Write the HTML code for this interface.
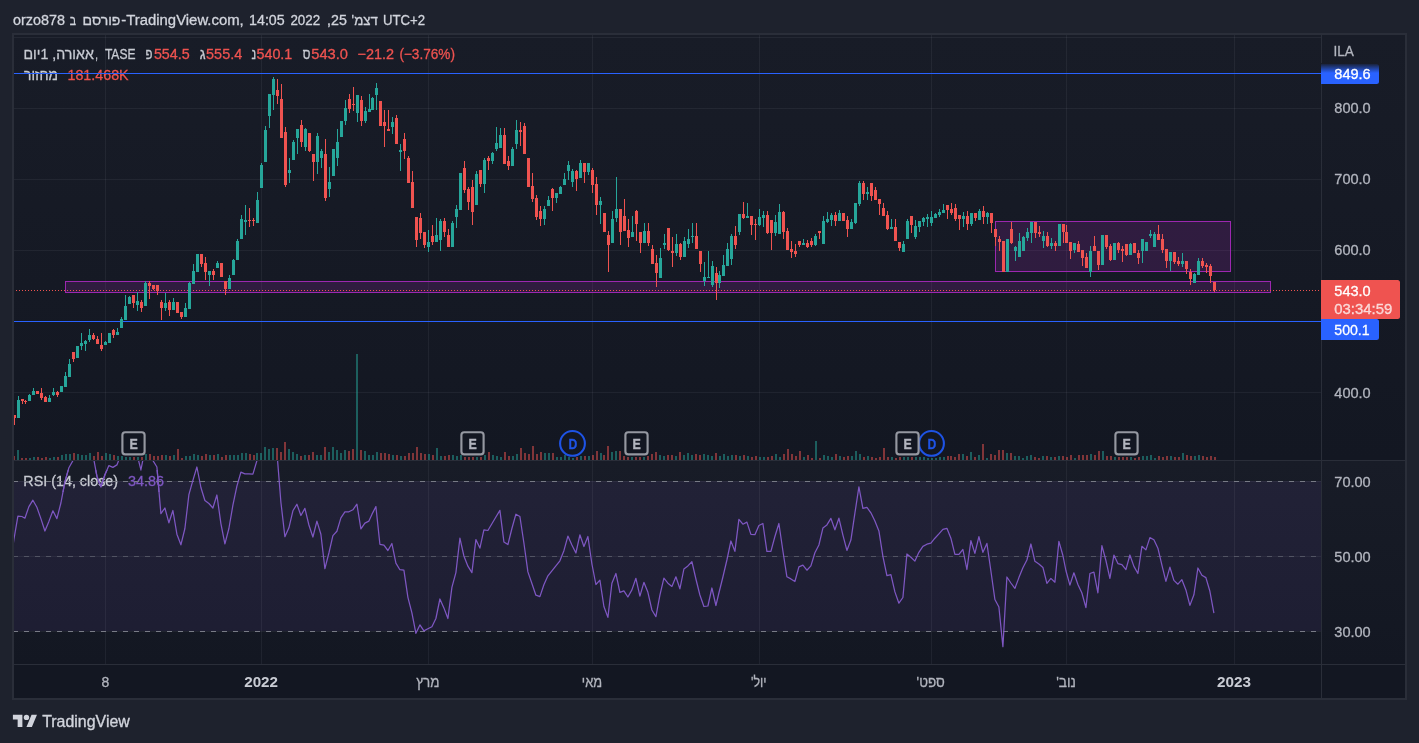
<!DOCTYPE html>
<html lang="he"><head><meta charset="utf-8"><title>chart</title>
<style>html,body{margin:0;padding:0;background:#1e222d;overflow:hidden}body{width:1419px;height:743px;font-family:"Liberation Sans",sans-serif}</style></head>
<body>
<svg width="1419" height="743" viewBox="0 0 1419 743" style="display:block;will-change:transform">
<defs>
<clipPath id="cm"><rect x="14" y="35" width="1307" height="425"/></clipPath>
<clipPath id="cr"><rect x="14" y="461" width="1307" height="203"/></clipPath>
<linearGradient id="fade" x1="0" y1="0" x2="0" y2="1"><stop offset="0" stop-color="#181c27" stop-opacity="1"/><stop offset="1" stop-color="#181c27" stop-opacity="0"/></linearGradient>
<linearGradient id="bgg" x1="0" y1="0" x2="0" y2="1"><stop offset="0" stop-color="#181c27"/><stop offset="1" stop-color="#131722"/></linearGradient>
<clipPath id="cl"><rect x="14" y="470" width="160" height="22"/></clipPath>
</defs>
<rect width="1419" height="743" fill="#1e222d"/>
<rect x="12" y="33" width="1395" height="667" fill="#2a2e39"/>
<rect x="14" y="35" width="1391" height="663" fill="#131722"/>
<rect x="14" y="35" width="1391" height="425" fill="url(#bgg)"/>
<rect x="14" y="461" width="1391" height="203" fill="url(#bgg)"/>
<g shape-rendering="crispEdges">
<rect x="14" y="481" width="1307" height="150" fill="#7e57c2" fill-opacity="0.1"/>
<rect x="14" y="37" width="1307" height="1" fill="#f0f3fa" fill-opacity="0.06"/>
<rect x="14" y="108" width="1307" height="1" fill="#f0f3fa" fill-opacity="0.06"/>
<rect x="14" y="179" width="1307" height="1" fill="#f0f3fa" fill-opacity="0.06"/>
<rect x="14" y="250" width="1307" height="1" fill="#f0f3fa" fill-opacity="0.06"/>
<rect x="14" y="321" width="1307" height="1" fill="#f0f3fa" fill-opacity="0.06"/>
<rect x="14" y="392" width="1307" height="1" fill="#f0f3fa" fill-opacity="0.06"/>
<rect x="14" y="481" width="1307" height="1" fill="#f0f3fa" fill-opacity="0.06"/>
<rect x="14" y="556" width="1307" height="1" fill="#f0f3fa" fill-opacity="0.06"/>
<rect x="14" y="631" width="1307" height="1" fill="#f0f3fa" fill-opacity="0.06"/>
<rect x="105" y="35" width="1" height="629" fill="#f0f3fa" fill-opacity="0.06"/>
<rect x="261" y="35" width="1" height="629" fill="#f0f3fa" fill-opacity="0.06"/>
<rect x="428" y="35" width="1" height="629" fill="#f0f3fa" fill-opacity="0.06"/>
<rect x="592" y="35" width="1" height="629" fill="#f0f3fa" fill-opacity="0.06"/>
<rect x="759" y="35" width="1" height="629" fill="#f0f3fa" fill-opacity="0.06"/>
<rect x="931" y="35" width="1" height="629" fill="#f0f3fa" fill-opacity="0.06"/>
<rect x="1066" y="35" width="1" height="629" fill="#f0f3fa" fill-opacity="0.06"/>
<rect x="1234" y="35" width="1" height="629" fill="#f0f3fa" fill-opacity="0.06"/>
<rect x="14" y="460" width="1391" height="1" fill="#2a2e39"/>
<rect x="14" y="664" width="1391" height="1" fill="#2a2e39"/>
<rect x="1321" y="35" width="1" height="663" fill="#2a2e39"/>
<g clip-path="url(#cm)">
<rect x="13" y="456" width="2" height="4" fill="#ef5350" fill-opacity="0.5"/>
<rect x="17" y="450" width="2" height="10" fill="#26a69a" fill-opacity="0.5"/>
<rect x="21" y="458" width="2" height="2" fill="#ef5350" fill-opacity="0.5"/>
<rect x="25" y="458" width="2" height="2" fill="#ef5350" fill-opacity="0.5"/>
<rect x="29" y="458" width="2" height="2" fill="#26a69a" fill-opacity="0.5"/>
<rect x="33" y="457" width="2" height="3" fill="#26a69a" fill-opacity="0.5"/>
<rect x="37" y="457" width="2" height="3" fill="#ef5350" fill-opacity="0.5"/>
<rect x="41" y="458" width="2" height="2" fill="#ef5350" fill-opacity="0.5"/>
<rect x="45" y="457" width="2" height="3" fill="#ef5350" fill-opacity="0.5"/>
<rect x="49" y="458" width="2" height="2" fill="#26a69a" fill-opacity="0.5"/>
<rect x="53" y="457" width="2" height="3" fill="#26a69a" fill-opacity="0.5"/>
<rect x="57" y="457" width="2" height="3" fill="#ef5350" fill-opacity="0.5"/>
<rect x="61" y="455" width="2" height="5" fill="#26a69a" fill-opacity="0.5"/>
<rect x="65" y="454" width="2" height="6" fill="#26a69a" fill-opacity="0.5"/>
<rect x="69" y="454" width="2" height="6" fill="#26a69a" fill-opacity="0.5"/>
<rect x="73" y="453" width="2" height="7" fill="#ef5350" fill-opacity="0.5"/>
<rect x="77" y="454" width="2" height="6" fill="#26a69a" fill-opacity="0.5"/>
<rect x="81" y="455" width="2" height="5" fill="#26a69a" fill-opacity="0.5"/>
<rect x="85" y="455" width="2" height="5" fill="#26a69a" fill-opacity="0.5"/>
<rect x="89" y="453" width="2" height="7" fill="#26a69a" fill-opacity="0.5"/>
<rect x="93" y="456" width="2" height="4" fill="#ef5350" fill-opacity="0.5"/>
<rect x="97" y="452" width="2" height="8" fill="#ef5350" fill-opacity="0.5"/>
<rect x="101" y="456" width="2" height="4" fill="#ef5350" fill-opacity="0.5"/>
<rect x="105" y="453" width="2" height="7" fill="#26a69a" fill-opacity="0.5"/>
<rect x="109" y="454" width="2" height="6" fill="#26a69a" fill-opacity="0.5"/>
<rect x="113" y="455" width="2" height="5" fill="#ef5350" fill-opacity="0.5"/>
<rect x="117" y="456" width="2" height="4" fill="#26a69a" fill-opacity="0.5"/>
<rect x="121" y="456" width="2" height="4" fill="#26a69a" fill-opacity="0.5"/>
<rect x="125" y="457" width="2" height="3" fill="#26a69a" fill-opacity="0.5"/>
<rect x="129" y="457" width="2" height="3" fill="#26a69a" fill-opacity="0.5"/>
<rect x="133" y="457" width="2" height="3" fill="#ef5350" fill-opacity="0.5"/>
<rect x="137" y="457" width="2" height="3" fill="#26a69a" fill-opacity="0.5"/>
<rect x="141" y="457" width="2" height="3" fill="#ef5350" fill-opacity="0.5"/>
<rect x="145" y="454" width="2" height="6" fill="#26a69a" fill-opacity="0.5"/>
<rect x="149" y="454" width="2" height="6" fill="#ef5350" fill-opacity="0.5"/>
<rect x="153" y="456" width="2" height="4" fill="#ef5350" fill-opacity="0.5"/>
<rect x="157" y="456" width="2" height="4" fill="#ef5350" fill-opacity="0.5"/>
<rect x="161" y="455" width="2" height="5" fill="#ef5350" fill-opacity="0.5"/>
<rect x="165" y="455" width="2" height="5" fill="#26a69a" fill-opacity="0.5"/>
<rect x="169" y="456" width="2" height="4" fill="#ef5350" fill-opacity="0.5"/>
<rect x="173" y="455" width="2" height="5" fill="#26a69a" fill-opacity="0.5"/>
<rect x="177" y="449" width="2" height="11" fill="#ef5350" fill-opacity="0.5"/>
<rect x="181" y="458" width="2" height="2" fill="#ef5350" fill-opacity="0.5"/>
<rect x="185" y="456" width="2" height="4" fill="#26a69a" fill-opacity="0.5"/>
<rect x="189" y="456" width="2" height="4" fill="#26a69a" fill-opacity="0.5"/>
<rect x="193" y="454" width="2" height="6" fill="#26a69a" fill-opacity="0.5"/>
<rect x="197" y="455" width="2" height="5" fill="#26a69a" fill-opacity="0.5"/>
<rect x="201" y="456" width="2" height="4" fill="#ef5350" fill-opacity="0.5"/>
<rect x="205" y="454" width="2" height="6" fill="#ef5350" fill-opacity="0.5"/>
<rect x="209" y="455" width="2" height="5" fill="#26a69a" fill-opacity="0.5"/>
<rect x="213" y="455" width="2" height="5" fill="#ef5350" fill-opacity="0.5"/>
<rect x="217" y="454" width="2" height="6" fill="#26a69a" fill-opacity="0.5"/>
<rect x="221" y="457" width="2" height="3" fill="#ef5350" fill-opacity="0.5"/>
<rect x="225" y="455" width="2" height="5" fill="#ef5350" fill-opacity="0.5"/>
<rect x="229" y="455" width="2" height="5" fill="#26a69a" fill-opacity="0.5"/>
<rect x="233" y="455" width="2" height="5" fill="#26a69a" fill-opacity="0.5"/>
<rect x="237" y="455" width="2" height="5" fill="#26a69a" fill-opacity="0.5"/>
<rect x="241" y="453" width="2" height="7" fill="#26a69a" fill-opacity="0.5"/>
<rect x="245" y="453" width="2" height="7" fill="#26a69a" fill-opacity="0.5"/>
<rect x="249" y="454" width="2" height="6" fill="#ef5350" fill-opacity="0.5"/>
<rect x="253" y="455" width="2" height="5" fill="#ef5350" fill-opacity="0.5"/>
<rect x="256" y="453" width="2" height="7" fill="#26a69a" fill-opacity="0.5"/>
<rect x="260" y="453" width="2" height="7" fill="#26a69a" fill-opacity="0.5"/>
<rect x="264" y="447" width="2" height="13" fill="#26a69a" fill-opacity="0.5"/>
<rect x="268" y="449" width="2" height="11" fill="#26a69a" fill-opacity="0.5"/>
<rect x="272" y="448" width="2" height="12" fill="#26a69a" fill-opacity="0.5"/>
<rect x="276" y="448" width="2" height="12" fill="#ef5350" fill-opacity="0.5"/>
<rect x="280" y="452" width="2" height="8" fill="#ef5350" fill-opacity="0.5"/>
<rect x="284" y="442" width="2" height="18" fill="#ef5350" fill-opacity="0.5"/>
<rect x="288" y="449" width="2" height="11" fill="#26a69a" fill-opacity="0.5"/>
<rect x="292" y="452" width="2" height="8" fill="#26a69a" fill-opacity="0.5"/>
<rect x="296" y="454" width="2" height="6" fill="#26a69a" fill-opacity="0.5"/>
<rect x="300" y="456" width="2" height="4" fill="#ef5350" fill-opacity="0.5"/>
<rect x="304" y="455" width="2" height="5" fill="#26a69a" fill-opacity="0.5"/>
<rect x="308" y="455" width="2" height="5" fill="#ef5350" fill-opacity="0.5"/>
<rect x="312" y="452" width="2" height="8" fill="#ef5350" fill-opacity="0.5"/>
<rect x="316" y="455" width="2" height="5" fill="#26a69a" fill-opacity="0.5"/>
<rect x="320" y="455" width="2" height="5" fill="#26a69a" fill-opacity="0.5"/>
<rect x="324" y="447" width="2" height="13" fill="#ef5350" fill-opacity="0.5"/>
<rect x="328" y="452" width="2" height="8" fill="#26a69a" fill-opacity="0.5"/>
<rect x="332" y="447" width="2" height="13" fill="#26a69a" fill-opacity="0.5"/>
<rect x="336" y="450" width="2" height="10" fill="#26a69a" fill-opacity="0.5"/>
<rect x="340" y="453" width="2" height="7" fill="#26a69a" fill-opacity="0.5"/>
<rect x="344" y="450" width="2" height="10" fill="#26a69a" fill-opacity="0.5"/>
<rect x="348" y="451" width="2" height="9" fill="#ef5350" fill-opacity="0.5"/>
<rect x="352" y="449" width="2" height="11" fill="#ef5350" fill-opacity="0.5"/>
<rect x="356" y="354" width="2" height="106" fill="#26a69a" fill-opacity="0.5"/>
<rect x="360" y="450" width="2" height="10" fill="#ef5350" fill-opacity="0.5"/>
<rect x="364" y="451" width="2" height="9" fill="#26a69a" fill-opacity="0.5"/>
<rect x="368" y="455" width="2" height="5" fill="#26a69a" fill-opacity="0.5"/>
<rect x="372" y="455" width="2" height="5" fill="#26a69a" fill-opacity="0.5"/>
<rect x="376" y="452" width="2" height="8" fill="#26a69a" fill-opacity="0.5"/>
<rect x="380" y="453" width="2" height="7" fill="#ef5350" fill-opacity="0.5"/>
<rect x="384" y="453" width="2" height="7" fill="#ef5350" fill-opacity="0.5"/>
<rect x="388" y="454" width="2" height="6" fill="#ef5350" fill-opacity="0.5"/>
<rect x="392" y="455" width="2" height="5" fill="#26a69a" fill-opacity="0.5"/>
<rect x="396" y="455" width="2" height="5" fill="#ef5350" fill-opacity="0.5"/>
<rect x="400" y="456" width="2" height="4" fill="#26a69a" fill-opacity="0.5"/>
<rect x="404" y="456" width="2" height="4" fill="#ef5350" fill-opacity="0.5"/>
<rect x="408" y="453" width="2" height="7" fill="#ef5350" fill-opacity="0.5"/>
<rect x="412" y="453" width="2" height="7" fill="#ef5350" fill-opacity="0.5"/>
<rect x="416" y="447" width="2" height="13" fill="#ef5350" fill-opacity="0.5"/>
<rect x="420" y="453" width="2" height="7" fill="#ef5350" fill-opacity="0.5"/>
<rect x="424" y="454" width="2" height="6" fill="#ef5350" fill-opacity="0.5"/>
<rect x="428" y="454" width="2" height="6" fill="#26a69a" fill-opacity="0.5"/>
<rect x="432" y="455" width="2" height="5" fill="#ef5350" fill-opacity="0.5"/>
<rect x="436" y="448" width="2" height="12" fill="#26a69a" fill-opacity="0.5"/>
<rect x="440" y="456" width="2" height="4" fill="#26a69a" fill-opacity="0.5"/>
<rect x="444" y="456" width="2" height="4" fill="#ef5350" fill-opacity="0.5"/>
<rect x="448" y="455" width="2" height="5" fill="#ef5350" fill-opacity="0.5"/>
<rect x="452" y="455" width="2" height="5" fill="#26a69a" fill-opacity="0.5"/>
<rect x="456" y="456" width="2" height="4" fill="#26a69a" fill-opacity="0.5"/>
<rect x="460" y="455" width="2" height="5" fill="#26a69a" fill-opacity="0.5"/>
<rect x="464" y="457" width="2" height="3" fill="#ef5350" fill-opacity="0.5"/>
<rect x="468" y="457" width="2" height="3" fill="#ef5350" fill-opacity="0.5"/>
<rect x="472" y="457" width="2" height="3" fill="#ef5350" fill-opacity="0.5"/>
<rect x="476" y="457" width="2" height="3" fill="#26a69a" fill-opacity="0.5"/>
<rect x="480" y="457" width="2" height="3" fill="#ef5350" fill-opacity="0.5"/>
<rect x="484" y="455" width="2" height="5" fill="#26a69a" fill-opacity="0.5"/>
<rect x="488" y="452" width="2" height="8" fill="#ef5350" fill-opacity="0.5"/>
<rect x="492" y="455" width="2" height="5" fill="#26a69a" fill-opacity="0.5"/>
<rect x="496" y="456" width="2" height="4" fill="#26a69a" fill-opacity="0.5"/>
<rect x="500" y="457" width="2" height="3" fill="#26a69a" fill-opacity="0.5"/>
<rect x="504" y="452" width="2" height="8" fill="#ef5350" fill-opacity="0.5"/>
<rect x="508" y="456" width="2" height="4" fill="#ef5350" fill-opacity="0.5"/>
<rect x="512" y="456" width="2" height="4" fill="#26a69a" fill-opacity="0.5"/>
<rect x="516" y="454" width="2" height="6" fill="#26a69a" fill-opacity="0.5"/>
<rect x="520" y="448" width="2" height="12" fill="#ef5350" fill-opacity="0.5"/>
<rect x="524" y="453" width="2" height="7" fill="#ef5350" fill-opacity="0.5"/>
<rect x="528" y="454" width="2" height="6" fill="#ef5350" fill-opacity="0.5"/>
<rect x="532" y="446" width="2" height="14" fill="#ef5350" fill-opacity="0.5"/>
<rect x="536" y="454" width="2" height="6" fill="#ef5350" fill-opacity="0.5"/>
<rect x="540" y="452" width="2" height="8" fill="#ef5350" fill-opacity="0.5"/>
<rect x="544" y="453" width="2" height="7" fill="#26a69a" fill-opacity="0.5"/>
<rect x="548" y="453" width="2" height="7" fill="#26a69a" fill-opacity="0.5"/>
<rect x="552" y="453" width="2" height="7" fill="#ef5350" fill-opacity="0.5"/>
<rect x="556" y="457" width="2" height="3" fill="#26a69a" fill-opacity="0.5"/>
<rect x="560" y="457" width="2" height="3" fill="#26a69a" fill-opacity="0.5"/>
<rect x="564" y="455" width="2" height="5" fill="#26a69a" fill-opacity="0.5"/>
<rect x="568" y="457" width="2" height="3" fill="#26a69a" fill-opacity="0.5"/>
<rect x="572" y="458" width="2" height="2" fill="#26a69a" fill-opacity="0.5"/>
<rect x="576" y="457" width="2" height="3" fill="#ef5350" fill-opacity="0.5"/>
<rect x="580" y="456" width="2" height="4" fill="#26a69a" fill-opacity="0.5"/>
<rect x="584" y="456" width="2" height="4" fill="#ef5350" fill-opacity="0.5"/>
<rect x="588" y="456" width="2" height="4" fill="#26a69a" fill-opacity="0.5"/>
<rect x="592" y="455" width="2" height="5" fill="#ef5350" fill-opacity="0.5"/>
<rect x="596" y="451" width="2" height="9" fill="#ef5350" fill-opacity="0.5"/>
<rect x="600" y="453" width="2" height="7" fill="#26a69a" fill-opacity="0.5"/>
<rect x="603" y="455" width="2" height="5" fill="#ef5350" fill-opacity="0.5"/>
<rect x="607" y="446" width="2" height="14" fill="#ef5350" fill-opacity="0.5"/>
<rect x="611" y="452" width="2" height="8" fill="#26a69a" fill-opacity="0.5"/>
<rect x="615" y="451" width="2" height="9" fill="#26a69a" fill-opacity="0.5"/>
<rect x="619" y="451" width="2" height="9" fill="#ef5350" fill-opacity="0.5"/>
<rect x="623" y="456" width="2" height="4" fill="#ef5350" fill-opacity="0.5"/>
<rect x="627" y="457" width="2" height="3" fill="#ef5350" fill-opacity="0.5"/>
<rect x="631" y="457" width="2" height="3" fill="#26a69a" fill-opacity="0.5"/>
<rect x="635" y="457" width="2" height="3" fill="#ef5350" fill-opacity="0.5"/>
<rect x="639" y="457" width="2" height="3" fill="#ef5350" fill-opacity="0.5"/>
<rect x="643" y="457" width="2" height="3" fill="#26a69a" fill-opacity="0.5"/>
<rect x="647" y="456" width="2" height="4" fill="#ef5350" fill-opacity="0.5"/>
<rect x="651" y="454" width="2" height="6" fill="#ef5350" fill-opacity="0.5"/>
<rect x="655" y="452" width="2" height="8" fill="#ef5350" fill-opacity="0.5"/>
<rect x="659" y="455" width="2" height="5" fill="#26a69a" fill-opacity="0.5"/>
<rect x="663" y="456" width="2" height="4" fill="#26a69a" fill-opacity="0.5"/>
<rect x="667" y="455" width="2" height="5" fill="#ef5350" fill-opacity="0.5"/>
<rect x="671" y="455" width="2" height="5" fill="#ef5350" fill-opacity="0.5"/>
<rect x="675" y="456" width="2" height="4" fill="#26a69a" fill-opacity="0.5"/>
<rect x="679" y="452" width="2" height="8" fill="#ef5350" fill-opacity="0.5"/>
<rect x="683" y="455" width="2" height="5" fill="#26a69a" fill-opacity="0.5"/>
<rect x="687" y="453" width="2" height="7" fill="#26a69a" fill-opacity="0.5"/>
<rect x="691" y="455" width="2" height="5" fill="#26a69a" fill-opacity="0.5"/>
<rect x="695" y="454" width="2" height="6" fill="#ef5350" fill-opacity="0.5"/>
<rect x="699" y="455" width="2" height="5" fill="#ef5350" fill-opacity="0.5"/>
<rect x="703" y="454" width="2" height="6" fill="#26a69a" fill-opacity="0.5"/>
<rect x="707" y="455" width="2" height="5" fill="#26a69a" fill-opacity="0.5"/>
<rect x="711" y="456" width="2" height="4" fill="#26a69a" fill-opacity="0.5"/>
<rect x="715" y="453" width="2" height="7" fill="#ef5350" fill-opacity="0.5"/>
<rect x="719" y="456" width="2" height="4" fill="#26a69a" fill-opacity="0.5"/>
<rect x="723" y="454" width="2" height="6" fill="#26a69a" fill-opacity="0.5"/>
<rect x="727" y="456" width="2" height="4" fill="#26a69a" fill-opacity="0.5"/>
<rect x="731" y="455" width="2" height="5" fill="#26a69a" fill-opacity="0.5"/>
<rect x="735" y="455" width="2" height="5" fill="#ef5350" fill-opacity="0.5"/>
<rect x="739" y="456" width="2" height="4" fill="#26a69a" fill-opacity="0.5"/>
<rect x="743" y="455" width="2" height="5" fill="#ef5350" fill-opacity="0.5"/>
<rect x="747" y="456" width="2" height="4" fill="#26a69a" fill-opacity="0.5"/>
<rect x="751" y="457" width="2" height="3" fill="#ef5350" fill-opacity="0.5"/>
<rect x="755" y="456" width="2" height="4" fill="#ef5350" fill-opacity="0.5"/>
<rect x="759" y="457" width="2" height="3" fill="#26a69a" fill-opacity="0.5"/>
<rect x="763" y="457" width="2" height="3" fill="#26a69a" fill-opacity="0.5"/>
<rect x="767" y="457" width="2" height="3" fill="#ef5350" fill-opacity="0.5"/>
<rect x="771" y="456" width="2" height="4" fill="#ef5350" fill-opacity="0.5"/>
<rect x="775" y="454" width="2" height="6" fill="#26a69a" fill-opacity="0.5"/>
<rect x="779" y="457" width="2" height="3" fill="#26a69a" fill-opacity="0.5"/>
<rect x="783" y="454" width="2" height="6" fill="#ef5350" fill-opacity="0.5"/>
<rect x="787" y="449" width="2" height="11" fill="#ef5350" fill-opacity="0.5"/>
<rect x="791" y="454" width="2" height="6" fill="#ef5350" fill-opacity="0.5"/>
<rect x="795" y="456" width="2" height="4" fill="#ef5350" fill-opacity="0.5"/>
<rect x="799" y="451" width="2" height="9" fill="#ef5350" fill-opacity="0.5"/>
<rect x="803" y="457" width="2" height="3" fill="#26a69a" fill-opacity="0.5"/>
<rect x="807" y="455" width="2" height="5" fill="#ef5350" fill-opacity="0.5"/>
<rect x="811" y="458" width="2" height="2" fill="#ef5350" fill-opacity="0.5"/>
<rect x="815" y="441" width="2" height="19" fill="#26a69a" fill-opacity="0.5"/>
<rect x="819" y="458" width="2" height="2" fill="#ef5350" fill-opacity="0.5"/>
<rect x="823" y="455" width="2" height="5" fill="#26a69a" fill-opacity="0.5"/>
<rect x="827" y="456" width="2" height="4" fill="#26a69a" fill-opacity="0.5"/>
<rect x="831" y="457" width="2" height="3" fill="#26a69a" fill-opacity="0.5"/>
<rect x="835" y="454" width="2" height="6" fill="#ef5350" fill-opacity="0.5"/>
<rect x="839" y="456" width="2" height="4" fill="#26a69a" fill-opacity="0.5"/>
<rect x="843" y="457" width="2" height="3" fill="#ef5350" fill-opacity="0.5"/>
<rect x="847" y="456" width="2" height="4" fill="#ef5350" fill-opacity="0.5"/>
<rect x="851" y="456" width="2" height="4" fill="#26a69a" fill-opacity="0.5"/>
<rect x="855" y="451" width="2" height="9" fill="#26a69a" fill-opacity="0.5"/>
<rect x="859" y="454" width="2" height="6" fill="#26a69a" fill-opacity="0.5"/>
<rect x="863" y="457" width="2" height="3" fill="#ef5350" fill-opacity="0.5"/>
<rect x="867" y="456" width="2" height="4" fill="#26a69a" fill-opacity="0.5"/>
<rect x="871" y="457" width="2" height="3" fill="#ef5350" fill-opacity="0.5"/>
<rect x="875" y="458" width="2" height="2" fill="#ef5350" fill-opacity="0.5"/>
<rect x="879" y="457" width="2" height="3" fill="#ef5350" fill-opacity="0.5"/>
<rect x="883" y="448" width="2" height="12" fill="#ef5350" fill-opacity="0.5"/>
<rect x="887" y="457" width="2" height="3" fill="#ef5350" fill-opacity="0.5"/>
<rect x="891" y="457" width="2" height="3" fill="#26a69a" fill-opacity="0.5"/>
<rect x="895" y="458" width="2" height="2" fill="#ef5350" fill-opacity="0.5"/>
<rect x="899" y="457" width="2" height="3" fill="#ef5350" fill-opacity="0.5"/>
<rect x="903" y="457" width="2" height="3" fill="#26a69a" fill-opacity="0.5"/>
<rect x="907" y="457" width="2" height="3" fill="#26a69a" fill-opacity="0.5"/>
<rect x="911" y="457" width="2" height="3" fill="#ef5350" fill-opacity="0.5"/>
<rect x="915" y="457" width="2" height="3" fill="#26a69a" fill-opacity="0.5"/>
<rect x="919" y="457" width="2" height="3" fill="#26a69a" fill-opacity="0.5"/>
<rect x="923" y="457" width="2" height="3" fill="#26a69a" fill-opacity="0.5"/>
<rect x="927" y="458" width="2" height="2" fill="#26a69a" fill-opacity="0.5"/>
<rect x="931" y="458" width="2" height="2" fill="#26a69a" fill-opacity="0.5"/>
<rect x="935" y="458" width="2" height="2" fill="#26a69a" fill-opacity="0.5"/>
<rect x="939" y="457" width="2" height="3" fill="#26a69a" fill-opacity="0.5"/>
<rect x="943" y="457" width="2" height="3" fill="#26a69a" fill-opacity="0.5"/>
<rect x="947" y="456" width="2" height="4" fill="#ef5350" fill-opacity="0.5"/>
<rect x="950" y="456" width="2" height="4" fill="#ef5350" fill-opacity="0.5"/>
<rect x="954" y="457" width="2" height="3" fill="#ef5350" fill-opacity="0.5"/>
<rect x="958" y="454" width="2" height="6" fill="#ef5350" fill-opacity="0.5"/>
<rect x="962" y="454" width="2" height="6" fill="#26a69a" fill-opacity="0.5"/>
<rect x="966" y="456" width="2" height="4" fill="#ef5350" fill-opacity="0.5"/>
<rect x="970" y="452" width="2" height="8" fill="#26a69a" fill-opacity="0.5"/>
<rect x="974" y="457" width="2" height="3" fill="#ef5350" fill-opacity="0.5"/>
<rect x="978" y="455" width="2" height="5" fill="#26a69a" fill-opacity="0.5"/>
<rect x="982" y="444" width="2" height="16" fill="#ef5350" fill-opacity="0.5"/>
<rect x="986" y="458" width="2" height="2" fill="#26a69a" fill-opacity="0.5"/>
<rect x="990" y="454" width="2" height="6" fill="#ef5350" fill-opacity="0.5"/>
<rect x="994" y="455" width="2" height="5" fill="#ef5350" fill-opacity="0.5"/>
<rect x="998" y="450" width="2" height="10" fill="#ef5350" fill-opacity="0.5"/>
<rect x="1002" y="450" width="2" height="10" fill="#ef5350" fill-opacity="0.5"/>
<rect x="1006" y="453" width="2" height="7" fill="#26a69a" fill-opacity="0.5"/>
<rect x="1010" y="453" width="2" height="7" fill="#ef5350" fill-opacity="0.5"/>
<rect x="1014" y="456" width="2" height="4" fill="#26a69a" fill-opacity="0.5"/>
<rect x="1018" y="456" width="2" height="4" fill="#26a69a" fill-opacity="0.5"/>
<rect x="1022" y="458" width="2" height="2" fill="#26a69a" fill-opacity="0.5"/>
<rect x="1026" y="456" width="2" height="4" fill="#26a69a" fill-opacity="0.5"/>
<rect x="1030" y="455" width="2" height="5" fill="#26a69a" fill-opacity="0.5"/>
<rect x="1034" y="457" width="2" height="3" fill="#ef5350" fill-opacity="0.5"/>
<rect x="1038" y="458" width="2" height="2" fill="#ef5350" fill-opacity="0.5"/>
<rect x="1042" y="456" width="2" height="4" fill="#26a69a" fill-opacity="0.5"/>
<rect x="1046" y="456" width="2" height="4" fill="#ef5350" fill-opacity="0.5"/>
<rect x="1050" y="457" width="2" height="3" fill="#26a69a" fill-opacity="0.5"/>
<rect x="1054" y="457" width="2" height="3" fill="#ef5350" fill-opacity="0.5"/>
<rect x="1058" y="456" width="2" height="4" fill="#26a69a" fill-opacity="0.5"/>
<rect x="1062" y="456" width="2" height="4" fill="#ef5350" fill-opacity="0.5"/>
<rect x="1066" y="457" width="2" height="3" fill="#ef5350" fill-opacity="0.5"/>
<rect x="1070" y="455" width="2" height="5" fill="#ef5350" fill-opacity="0.5"/>
<rect x="1074" y="458" width="2" height="2" fill="#26a69a" fill-opacity="0.5"/>
<rect x="1078" y="455" width="2" height="5" fill="#ef5350" fill-opacity="0.5"/>
<rect x="1082" y="455" width="2" height="5" fill="#ef5350" fill-opacity="0.5"/>
<rect x="1086" y="455" width="2" height="5" fill="#ef5350" fill-opacity="0.5"/>
<rect x="1090" y="454" width="2" height="6" fill="#26a69a" fill-opacity="0.5"/>
<rect x="1094" y="455" width="2" height="5" fill="#ef5350" fill-opacity="0.5"/>
<rect x="1098" y="451" width="2" height="9" fill="#ef5350" fill-opacity="0.5"/>
<rect x="1102" y="451" width="2" height="9" fill="#26a69a" fill-opacity="0.5"/>
<rect x="1106" y="456" width="2" height="4" fill="#ef5350" fill-opacity="0.5"/>
<rect x="1110" y="456" width="2" height="4" fill="#ef5350" fill-opacity="0.5"/>
<rect x="1114" y="457" width="2" height="3" fill="#26a69a" fill-opacity="0.5"/>
<rect x="1118" y="457" width="2" height="3" fill="#ef5350" fill-opacity="0.5"/>
<rect x="1122" y="457" width="2" height="3" fill="#ef5350" fill-opacity="0.5"/>
<rect x="1126" y="457" width="2" height="3" fill="#ef5350" fill-opacity="0.5"/>
<rect x="1130" y="457" width="2" height="3" fill="#26a69a" fill-opacity="0.5"/>
<rect x="1134" y="458" width="2" height="2" fill="#ef5350" fill-opacity="0.5"/>
<rect x="1138" y="457" width="2" height="3" fill="#ef5350" fill-opacity="0.5"/>
<rect x="1142" y="456" width="2" height="4" fill="#26a69a" fill-opacity="0.5"/>
<rect x="1146" y="456" width="2" height="4" fill="#26a69a" fill-opacity="0.5"/>
<rect x="1150" y="455" width="2" height="5" fill="#26a69a" fill-opacity="0.5"/>
<rect x="1154" y="458" width="2" height="2" fill="#26a69a" fill-opacity="0.5"/>
<rect x="1158" y="456" width="2" height="4" fill="#ef5350" fill-opacity="0.5"/>
<rect x="1162" y="457" width="2" height="3" fill="#ef5350" fill-opacity="0.5"/>
<rect x="1166" y="456" width="2" height="4" fill="#ef5350" fill-opacity="0.5"/>
<rect x="1170" y="456" width="2" height="4" fill="#26a69a" fill-opacity="0.5"/>
<rect x="1174" y="457" width="2" height="3" fill="#ef5350" fill-opacity="0.5"/>
<rect x="1178" y="457" width="2" height="3" fill="#ef5350" fill-opacity="0.5"/>
<rect x="1182" y="453" width="2" height="7" fill="#26a69a" fill-opacity="0.5"/>
<rect x="1186" y="455" width="2" height="5" fill="#ef5350" fill-opacity="0.5"/>
<rect x="1190" y="456" width="2" height="4" fill="#ef5350" fill-opacity="0.5"/>
<rect x="1194" y="456" width="2" height="4" fill="#26a69a" fill-opacity="0.5"/>
<rect x="1198" y="455" width="2" height="5" fill="#26a69a" fill-opacity="0.5"/>
<rect x="1202" y="456" width="2" height="4" fill="#ef5350" fill-opacity="0.5"/>
<rect x="1206" y="457" width="2" height="3" fill="#ef5350" fill-opacity="0.5"/>
<rect x="1210" y="456" width="2" height="4" fill="#ef5350" fill-opacity="0.5"/>
<rect x="1214" y="457" width="2" height="3" fill="#ef5350" fill-opacity="0.5"/>
<rect x="14" y="73" width="1307" height="1" fill="#2962ff"/>
<rect x="14" y="321" width="1307" height="1" fill="#2962ff"/>
<rect x="995" y="221" width="236" height="51" fill="#9c27b0" fill-opacity="0.2"/>
<rect x="995" y="221" width="236" height="1" fill="#9c27b0"/>
<rect x="995" y="271" width="236" height="1" fill="#9c27b0"/>
<rect x="995" y="221" width="1" height="51" fill="#9c27b0"/>
<rect x="1230" y="221" width="1" height="51" fill="#9c27b0"/>
<rect x="65" y="281" width="1206" height="12" fill="#9c27b0" fill-opacity="0.2"/>
<rect x="65" y="281" width="1206" height="1" fill="#9c27b0"/>
<rect x="65" y="292" width="1206" height="1" fill="#9c27b0"/>
<rect x="65" y="281" width="1" height="12" fill="#9c27b0"/>
<rect x="1270" y="281" width="1" height="12" fill="#9c27b0"/>
<path d="M16 290h1v1h-1zM19 290h1v1h-1zM22 290h1v1h-1zM25 290h1v1h-1zM28 290h1v1h-1zM31 290h1v1h-1zM34 290h1v1h-1zM37 290h1v1h-1zM40 290h1v1h-1zM43 290h1v1h-1zM46 290h1v1h-1zM49 290h1v1h-1zM52 290h1v1h-1zM55 290h1v1h-1zM58 290h1v1h-1zM61 290h1v1h-1zM64 290h1v1h-1zM67 290h1v1h-1zM70 290h1v1h-1zM73 290h1v1h-1zM76 290h1v1h-1zM79 290h1v1h-1zM82 290h1v1h-1zM85 290h1v1h-1zM88 290h1v1h-1zM91 290h1v1h-1zM94 290h1v1h-1zM97 290h1v1h-1zM100 290h1v1h-1zM103 290h1v1h-1zM106 290h1v1h-1zM109 290h1v1h-1zM112 290h1v1h-1zM115 290h1v1h-1zM118 290h1v1h-1zM121 290h1v1h-1zM124 290h1v1h-1zM127 290h1v1h-1zM130 290h1v1h-1zM133 290h1v1h-1zM136 290h1v1h-1zM139 290h1v1h-1zM142 290h1v1h-1zM145 290h1v1h-1zM148 290h1v1h-1zM151 290h1v1h-1zM154 290h1v1h-1zM157 290h1v1h-1zM160 290h1v1h-1zM163 290h1v1h-1zM166 290h1v1h-1zM169 290h1v1h-1zM172 290h1v1h-1zM175 290h1v1h-1zM178 290h1v1h-1zM181 290h1v1h-1zM184 290h1v1h-1zM187 290h1v1h-1zM190 290h1v1h-1zM193 290h1v1h-1zM196 290h1v1h-1zM199 290h1v1h-1zM202 290h1v1h-1zM205 290h1v1h-1zM208 290h1v1h-1zM211 290h1v1h-1zM214 290h1v1h-1zM217 290h1v1h-1zM220 290h1v1h-1zM223 290h1v1h-1zM226 290h1v1h-1zM229 290h1v1h-1zM232 290h1v1h-1zM235 290h1v1h-1zM238 290h1v1h-1zM241 290h1v1h-1zM244 290h1v1h-1zM247 290h1v1h-1zM250 290h1v1h-1zM253 290h1v1h-1zM256 290h1v1h-1zM259 290h1v1h-1zM262 290h1v1h-1zM265 290h1v1h-1zM268 290h1v1h-1zM271 290h1v1h-1zM274 290h1v1h-1zM277 290h1v1h-1zM280 290h1v1h-1zM283 290h1v1h-1zM286 290h1v1h-1zM289 290h1v1h-1zM292 290h1v1h-1zM295 290h1v1h-1zM298 290h1v1h-1zM301 290h1v1h-1zM304 290h1v1h-1zM307 290h1v1h-1zM310 290h1v1h-1zM313 290h1v1h-1zM316 290h1v1h-1zM319 290h1v1h-1zM322 290h1v1h-1zM325 290h1v1h-1zM328 290h1v1h-1zM331 290h1v1h-1zM334 290h1v1h-1zM337 290h1v1h-1zM340 290h1v1h-1zM343 290h1v1h-1zM346 290h1v1h-1zM349 290h1v1h-1zM352 290h1v1h-1zM355 290h1v1h-1zM358 290h1v1h-1zM361 290h1v1h-1zM364 290h1v1h-1zM367 290h1v1h-1zM370 290h1v1h-1zM373 290h1v1h-1zM376 290h1v1h-1zM379 290h1v1h-1zM382 290h1v1h-1zM385 290h1v1h-1zM388 290h1v1h-1zM391 290h1v1h-1zM394 290h1v1h-1zM397 290h1v1h-1zM400 290h1v1h-1zM403 290h1v1h-1zM406 290h1v1h-1zM409 290h1v1h-1zM412 290h1v1h-1zM415 290h1v1h-1zM418 290h1v1h-1zM421 290h1v1h-1zM424 290h1v1h-1zM427 290h1v1h-1zM430 290h1v1h-1zM433 290h1v1h-1zM436 290h1v1h-1zM439 290h1v1h-1zM442 290h1v1h-1zM445 290h1v1h-1zM448 290h1v1h-1zM451 290h1v1h-1zM454 290h1v1h-1zM457 290h1v1h-1zM460 290h1v1h-1zM463 290h1v1h-1zM466 290h1v1h-1zM469 290h1v1h-1zM472 290h1v1h-1zM475 290h1v1h-1zM478 290h1v1h-1zM481 290h1v1h-1zM484 290h1v1h-1zM487 290h1v1h-1zM490 290h1v1h-1zM493 290h1v1h-1zM496 290h1v1h-1zM499 290h1v1h-1zM502 290h1v1h-1zM505 290h1v1h-1zM508 290h1v1h-1zM511 290h1v1h-1zM514 290h1v1h-1zM517 290h1v1h-1zM520 290h1v1h-1zM523 290h1v1h-1zM526 290h1v1h-1zM529 290h1v1h-1zM532 290h1v1h-1zM535 290h1v1h-1zM538 290h1v1h-1zM541 290h1v1h-1zM544 290h1v1h-1zM547 290h1v1h-1zM550 290h1v1h-1zM553 290h1v1h-1zM556 290h1v1h-1zM559 290h1v1h-1zM562 290h1v1h-1zM565 290h1v1h-1zM568 290h1v1h-1zM571 290h1v1h-1zM574 290h1v1h-1zM577 290h1v1h-1zM580 290h1v1h-1zM583 290h1v1h-1zM586 290h1v1h-1zM589 290h1v1h-1zM592 290h1v1h-1zM595 290h1v1h-1zM598 290h1v1h-1zM601 290h1v1h-1zM604 290h1v1h-1zM607 290h1v1h-1zM610 290h1v1h-1zM613 290h1v1h-1zM616 290h1v1h-1zM619 290h1v1h-1zM622 290h1v1h-1zM625 290h1v1h-1zM628 290h1v1h-1zM631 290h1v1h-1zM634 290h1v1h-1zM637 290h1v1h-1zM640 290h1v1h-1zM643 290h1v1h-1zM646 290h1v1h-1zM649 290h1v1h-1zM652 290h1v1h-1zM655 290h1v1h-1zM658 290h1v1h-1zM661 290h1v1h-1zM664 290h1v1h-1zM667 290h1v1h-1zM670 290h1v1h-1zM673 290h1v1h-1zM676 290h1v1h-1zM679 290h1v1h-1zM682 290h1v1h-1zM685 290h1v1h-1zM688 290h1v1h-1zM691 290h1v1h-1zM694 290h1v1h-1zM697 290h1v1h-1zM700 290h1v1h-1zM703 290h1v1h-1zM706 290h1v1h-1zM709 290h1v1h-1zM712 290h1v1h-1zM715 290h1v1h-1zM718 290h1v1h-1zM721 290h1v1h-1zM724 290h1v1h-1zM727 290h1v1h-1zM730 290h1v1h-1zM733 290h1v1h-1zM736 290h1v1h-1zM739 290h1v1h-1zM742 290h1v1h-1zM745 290h1v1h-1zM748 290h1v1h-1zM751 290h1v1h-1zM754 290h1v1h-1zM757 290h1v1h-1zM760 290h1v1h-1zM763 290h1v1h-1zM766 290h1v1h-1zM769 290h1v1h-1zM772 290h1v1h-1zM775 290h1v1h-1zM778 290h1v1h-1zM781 290h1v1h-1zM784 290h1v1h-1zM787 290h1v1h-1zM790 290h1v1h-1zM793 290h1v1h-1zM796 290h1v1h-1zM799 290h1v1h-1zM802 290h1v1h-1zM805 290h1v1h-1zM808 290h1v1h-1zM811 290h1v1h-1zM814 290h1v1h-1zM817 290h1v1h-1zM820 290h1v1h-1zM823 290h1v1h-1zM826 290h1v1h-1zM829 290h1v1h-1zM832 290h1v1h-1zM835 290h1v1h-1zM838 290h1v1h-1zM841 290h1v1h-1zM844 290h1v1h-1zM847 290h1v1h-1zM850 290h1v1h-1zM853 290h1v1h-1zM856 290h1v1h-1zM859 290h1v1h-1zM862 290h1v1h-1zM865 290h1v1h-1zM868 290h1v1h-1zM871 290h1v1h-1zM874 290h1v1h-1zM877 290h1v1h-1zM880 290h1v1h-1zM883 290h1v1h-1zM886 290h1v1h-1zM889 290h1v1h-1zM892 290h1v1h-1zM895 290h1v1h-1zM898 290h1v1h-1zM901 290h1v1h-1zM904 290h1v1h-1zM907 290h1v1h-1zM910 290h1v1h-1zM913 290h1v1h-1zM916 290h1v1h-1zM919 290h1v1h-1zM922 290h1v1h-1zM925 290h1v1h-1zM928 290h1v1h-1zM931 290h1v1h-1zM934 290h1v1h-1zM937 290h1v1h-1zM940 290h1v1h-1zM943 290h1v1h-1zM946 290h1v1h-1zM949 290h1v1h-1zM952 290h1v1h-1zM955 290h1v1h-1zM958 290h1v1h-1zM961 290h1v1h-1zM964 290h1v1h-1zM967 290h1v1h-1zM970 290h1v1h-1zM973 290h1v1h-1zM976 290h1v1h-1zM979 290h1v1h-1zM982 290h1v1h-1zM985 290h1v1h-1zM988 290h1v1h-1zM991 290h1v1h-1zM994 290h1v1h-1zM997 290h1v1h-1zM1000 290h1v1h-1zM1003 290h1v1h-1zM1006 290h1v1h-1zM1009 290h1v1h-1zM1012 290h1v1h-1zM1015 290h1v1h-1zM1018 290h1v1h-1zM1021 290h1v1h-1zM1024 290h1v1h-1zM1027 290h1v1h-1zM1030 290h1v1h-1zM1033 290h1v1h-1zM1036 290h1v1h-1zM1039 290h1v1h-1zM1042 290h1v1h-1zM1045 290h1v1h-1zM1048 290h1v1h-1zM1051 290h1v1h-1zM1054 290h1v1h-1zM1057 290h1v1h-1zM1060 290h1v1h-1zM1063 290h1v1h-1zM1066 290h1v1h-1zM1069 290h1v1h-1zM1072 290h1v1h-1zM1075 290h1v1h-1zM1078 290h1v1h-1zM1081 290h1v1h-1zM1084 290h1v1h-1zM1087 290h1v1h-1zM1090 290h1v1h-1zM1093 290h1v1h-1zM1096 290h1v1h-1zM1099 290h1v1h-1zM1102 290h1v1h-1zM1105 290h1v1h-1zM1108 290h1v1h-1zM1111 290h1v1h-1zM1114 290h1v1h-1zM1117 290h1v1h-1zM1120 290h1v1h-1zM1123 290h1v1h-1zM1126 290h1v1h-1zM1129 290h1v1h-1zM1132 290h1v1h-1zM1135 290h1v1h-1zM1138 290h1v1h-1zM1141 290h1v1h-1zM1144 290h1v1h-1zM1147 290h1v1h-1zM1150 290h1v1h-1zM1153 290h1v1h-1zM1156 290h1v1h-1zM1159 290h1v1h-1zM1162 290h1v1h-1zM1165 290h1v1h-1zM1168 290h1v1h-1zM1171 290h1v1h-1zM1174 290h1v1h-1zM1177 290h1v1h-1zM1180 290h1v1h-1zM1183 290h1v1h-1zM1186 290h1v1h-1zM1189 290h1v1h-1zM1192 290h1v1h-1zM1195 290h1v1h-1zM1198 290h1v1h-1zM1201 290h1v1h-1zM1204 290h1v1h-1zM1207 290h1v1h-1zM1210 290h1v1h-1zM1213 290h1v1h-1zM1216 290h1v1h-1zM1219 290h1v1h-1zM1222 290h1v1h-1zM1225 290h1v1h-1zM1228 290h1v1h-1zM1231 290h1v1h-1zM1234 290h1v1h-1zM1237 290h1v1h-1zM1240 290h1v1h-1zM1243 290h1v1h-1zM1246 290h1v1h-1zM1249 290h1v1h-1zM1252 290h1v1h-1zM1255 290h1v1h-1zM1258 290h1v1h-1zM1261 290h1v1h-1zM1264 290h1v1h-1zM1267 290h1v1h-1zM1270 290h1v1h-1zM1273 290h1v1h-1zM1276 290h1v1h-1zM1279 290h1v1h-1zM1282 290h1v1h-1zM1285 290h1v1h-1zM1288 290h1v1h-1zM1291 290h1v1h-1zM1294 290h1v1h-1zM1297 290h1v1h-1zM1300 290h1v1h-1zM1303 290h1v1h-1zM1306 290h1v1h-1zM1309 290h1v1h-1zM1312 290h1v1h-1zM1315 290h1v1h-1zM1318 290h1v1h-1z" fill="#ef5350"/>
<rect x="14" y="415" width="1" height="10" fill="#ef5350"/>
<rect x="13" y="415" width="3" height="3" fill="#ef5350"/>
<rect x="18" y="396" width="1" height="22" fill="#26a69a"/>
<rect x="17" y="400" width="3" height="18" fill="#26a69a"/>
<rect x="22" y="399" width="1" height="5" fill="#ef5350"/>
<rect x="21" y="399" width="3" height="2" fill="#ef5350"/>
<rect x="25" y="400" width="1" height="4" fill="#ef5350"/>
<rect x="24" y="401" width="3" height="1" fill="#ef5350"/>
<rect x="29" y="394" width="1" height="7" fill="#26a69a"/>
<rect x="28" y="395" width="3" height="6" fill="#26a69a"/>
<rect x="33" y="388" width="1" height="7" fill="#26a69a"/>
<rect x="32" y="391" width="3" height="4" fill="#26a69a"/>
<rect x="37" y="391" width="1" height="3" fill="#ef5350"/>
<rect x="36" y="391" width="3" height="3" fill="#ef5350"/>
<rect x="41" y="388" width="1" height="12" fill="#ef5350"/>
<rect x="40" y="393" width="3" height="5" fill="#ef5350"/>
<rect x="45" y="396" width="1" height="6" fill="#ef5350"/>
<rect x="44" y="397" width="3" height="5" fill="#ef5350"/>
<rect x="49" y="395" width="1" height="7" fill="#26a69a"/>
<rect x="48" y="398" width="3" height="4" fill="#26a69a"/>
<rect x="53" y="388" width="1" height="8" fill="#26a69a"/>
<rect x="52" y="392" width="3" height="3" fill="#26a69a"/>
<rect x="57" y="391" width="1" height="6" fill="#ef5350"/>
<rect x="56" y="392" width="3" height="3" fill="#ef5350"/>
<rect x="61" y="386" width="1" height="6" fill="#26a69a"/>
<rect x="60" y="386" width="3" height="6" fill="#26a69a"/>
<rect x="65" y="372" width="1" height="15" fill="#26a69a"/>
<rect x="64" y="376" width="3" height="11" fill="#26a69a"/>
<rect x="69" y="359" width="1" height="18" fill="#26a69a"/>
<rect x="68" y="364" width="3" height="13" fill="#26a69a"/>
<rect x="73" y="352" width="1" height="10" fill="#ef5350"/>
<rect x="72" y="352" width="3" height="7" fill="#ef5350"/>
<rect x="77" y="346" width="1" height="12" fill="#26a69a"/>
<rect x="76" y="346" width="3" height="12" fill="#26a69a"/>
<rect x="81" y="333" width="1" height="17" fill="#26a69a"/>
<rect x="80" y="343" width="3" height="3" fill="#26a69a"/>
<rect x="85" y="340" width="1" height="11" fill="#26a69a"/>
<rect x="84" y="341" width="3" height="3" fill="#26a69a"/>
<rect x="89" y="329" width="1" height="13" fill="#26a69a"/>
<rect x="88" y="335" width="3" height="5" fill="#26a69a"/>
<rect x="93" y="333" width="1" height="7" fill="#ef5350"/>
<rect x="92" y="335" width="3" height="4" fill="#ef5350"/>
<rect x="97" y="336" width="1" height="8" fill="#ef5350"/>
<rect x="96" y="339" width="3" height="5" fill="#ef5350"/>
<rect x="101" y="333" width="1" height="18" fill="#ef5350"/>
<rect x="100" y="345" width="3" height="4" fill="#ef5350"/>
<rect x="105" y="341" width="1" height="4" fill="#26a69a"/>
<rect x="104" y="342" width="3" height="3" fill="#26a69a"/>
<rect x="109" y="333" width="1" height="10" fill="#26a69a"/>
<rect x="108" y="333" width="3" height="10" fill="#26a69a"/>
<rect x="113" y="329" width="1" height="9" fill="#ef5350"/>
<rect x="112" y="330" width="3" height="5" fill="#ef5350"/>
<rect x="117" y="328" width="1" height="7" fill="#26a69a"/>
<rect x="116" y="332" width="3" height="3" fill="#26a69a"/>
<rect x="121" y="317" width="1" height="11" fill="#26a69a"/>
<rect x="120" y="319" width="3" height="9" fill="#26a69a"/>
<rect x="125" y="295" width="1" height="25" fill="#26a69a"/>
<rect x="124" y="306" width="3" height="14" fill="#26a69a"/>
<rect x="129" y="296" width="1" height="8" fill="#26a69a"/>
<rect x="128" y="297" width="3" height="7" fill="#26a69a"/>
<rect x="133" y="295" width="1" height="13" fill="#ef5350"/>
<rect x="132" y="295" width="3" height="8" fill="#ef5350"/>
<rect x="137" y="292" width="1" height="19" fill="#26a69a"/>
<rect x="136" y="301" width="3" height="4" fill="#26a69a"/>
<rect x="141" y="300" width="1" height="12" fill="#ef5350"/>
<rect x="140" y="302" width="3" height="6" fill="#ef5350"/>
<rect x="145" y="281" width="1" height="25" fill="#26a69a"/>
<rect x="144" y="283" width="3" height="23" fill="#26a69a"/>
<rect x="149" y="281" width="1" height="18" fill="#ef5350"/>
<rect x="148" y="283" width="3" height="3" fill="#ef5350"/>
<rect x="153" y="285" width="1" height="5" fill="#ef5350"/>
<rect x="152" y="285" width="3" height="4" fill="#ef5350"/>
<rect x="157" y="285" width="1" height="10" fill="#ef5350"/>
<rect x="156" y="285" width="3" height="6" fill="#ef5350"/>
<rect x="161" y="300" width="1" height="20" fill="#ef5350"/>
<rect x="160" y="302" width="3" height="6" fill="#ef5350"/>
<rect x="165" y="293" width="1" height="18" fill="#26a69a"/>
<rect x="164" y="303" width="3" height="5" fill="#26a69a"/>
<rect x="169" y="300" width="1" height="16" fill="#ef5350"/>
<rect x="168" y="302" width="3" height="8" fill="#ef5350"/>
<rect x="173" y="298" width="1" height="12" fill="#26a69a"/>
<rect x="172" y="302" width="3" height="8" fill="#26a69a"/>
<rect x="177" y="302" width="1" height="11" fill="#ef5350"/>
<rect x="176" y="302" width="3" height="11" fill="#ef5350"/>
<rect x="181" y="312" width="1" height="7" fill="#ef5350"/>
<rect x="180" y="312" width="3" height="5" fill="#ef5350"/>
<rect x="185" y="303" width="1" height="14" fill="#26a69a"/>
<rect x="184" y="308" width="3" height="9" fill="#26a69a"/>
<rect x="189" y="282" width="1" height="27" fill="#26a69a"/>
<rect x="188" y="283" width="3" height="26" fill="#26a69a"/>
<rect x="193" y="264" width="1" height="20" fill="#26a69a"/>
<rect x="192" y="271" width="3" height="13" fill="#26a69a"/>
<rect x="197" y="254" width="1" height="18" fill="#26a69a"/>
<rect x="196" y="254" width="3" height="18" fill="#26a69a"/>
<rect x="201" y="254" width="1" height="13" fill="#ef5350"/>
<rect x="200" y="254" width="3" height="10" fill="#ef5350"/>
<rect x="205" y="257" width="1" height="23" fill="#ef5350"/>
<rect x="204" y="263" width="3" height="9" fill="#ef5350"/>
<rect x="209" y="271" width="1" height="15" fill="#26a69a"/>
<rect x="208" y="271" width="3" height="4" fill="#26a69a"/>
<rect x="213" y="269" width="1" height="11" fill="#ef5350"/>
<rect x="212" y="271" width="3" height="4" fill="#ef5350"/>
<rect x="217" y="261" width="1" height="7" fill="#26a69a"/>
<rect x="216" y="263" width="3" height="5" fill="#26a69a"/>
<rect x="221" y="263" width="1" height="14" fill="#ef5350"/>
<rect x="220" y="263" width="3" height="14" fill="#ef5350"/>
<rect x="225" y="281" width="1" height="14" fill="#ef5350"/>
<rect x="224" y="281" width="3" height="8" fill="#ef5350"/>
<rect x="229" y="275" width="1" height="14" fill="#26a69a"/>
<rect x="228" y="278" width="3" height="11" fill="#26a69a"/>
<rect x="233" y="259" width="1" height="16" fill="#26a69a"/>
<rect x="232" y="260" width="3" height="15" fill="#26a69a"/>
<rect x="237" y="239" width="1" height="21" fill="#26a69a"/>
<rect x="236" y="241" width="3" height="19" fill="#26a69a"/>
<rect x="241" y="215" width="1" height="24" fill="#26a69a"/>
<rect x="240" y="219" width="3" height="20" fill="#26a69a"/>
<rect x="245" y="205" width="1" height="30" fill="#26a69a"/>
<rect x="244" y="220" width="3" height="2" fill="#26a69a"/>
<rect x="249" y="208" width="1" height="19" fill="#ef5350"/>
<rect x="248" y="220" width="3" height="1" fill="#ef5350"/>
<rect x="253" y="218" width="1" height="8" fill="#ef5350"/>
<rect x="252" y="220" width="3" height="1" fill="#ef5350"/>
<rect x="257" y="192" width="1" height="31" fill="#26a69a"/>
<rect x="256" y="200" width="3" height="23" fill="#26a69a"/>
<rect x="261" y="163" width="1" height="25" fill="#26a69a"/>
<rect x="260" y="165" width="3" height="23" fill="#26a69a"/>
<rect x="265" y="126" width="1" height="36" fill="#26a69a"/>
<rect x="264" y="130" width="3" height="32" fill="#26a69a"/>
<rect x="269" y="94" width="1" height="34" fill="#26a69a"/>
<rect x="268" y="94" width="3" height="22" fill="#26a69a"/>
<rect x="273" y="77" width="1" height="33" fill="#26a69a"/>
<rect x="272" y="79" width="3" height="16" fill="#26a69a"/>
<rect x="277" y="79" width="1" height="25" fill="#ef5350"/>
<rect x="276" y="90" width="3" height="6" fill="#ef5350"/>
<rect x="281" y="84" width="1" height="54" fill="#ef5350"/>
<rect x="280" y="99" width="3" height="39" fill="#ef5350"/>
<rect x="285" y="127" width="1" height="60" fill="#ef5350"/>
<rect x="284" y="132" width="3" height="53" fill="#ef5350"/>
<rect x="289" y="158" width="1" height="25" fill="#26a69a"/>
<rect x="288" y="170" width="3" height="3" fill="#26a69a"/>
<rect x="293" y="140" width="1" height="20" fill="#26a69a"/>
<rect x="292" y="142" width="3" height="18" fill="#26a69a"/>
<rect x="297" y="129" width="1" height="25" fill="#26a69a"/>
<rect x="296" y="129" width="3" height="9" fill="#26a69a"/>
<rect x="301" y="120" width="1" height="27" fill="#ef5350"/>
<rect x="300" y="125" width="3" height="17" fill="#ef5350"/>
<rect x="305" y="128" width="1" height="23" fill="#26a69a"/>
<rect x="304" y="129" width="3" height="18" fill="#26a69a"/>
<rect x="309" y="133" width="1" height="19" fill="#ef5350"/>
<rect x="308" y="133" width="3" height="18" fill="#ef5350"/>
<rect x="313" y="154" width="1" height="27" fill="#ef5350"/>
<rect x="312" y="154" width="3" height="8" fill="#ef5350"/>
<rect x="317" y="133" width="1" height="41" fill="#26a69a"/>
<rect x="316" y="136" width="3" height="26" fill="#26a69a"/>
<rect x="321" y="149" width="1" height="19" fill="#26a69a"/>
<rect x="320" y="151" width="3" height="7" fill="#26a69a"/>
<rect x="325" y="139" width="1" height="62" fill="#ef5350"/>
<rect x="324" y="154" width="3" height="44" fill="#ef5350"/>
<rect x="329" y="167" width="1" height="30" fill="#26a69a"/>
<rect x="328" y="182" width="3" height="7" fill="#26a69a"/>
<rect x="333" y="149" width="1" height="27" fill="#26a69a"/>
<rect x="332" y="149" width="3" height="27" fill="#26a69a"/>
<rect x="337" y="129" width="1" height="37" fill="#26a69a"/>
<rect x="336" y="142" width="3" height="16" fill="#26a69a"/>
<rect x="341" y="121" width="1" height="16" fill="#26a69a"/>
<rect x="340" y="121" width="3" height="16" fill="#26a69a"/>
<rect x="345" y="100" width="1" height="25" fill="#26a69a"/>
<rect x="344" y="108" width="3" height="13" fill="#26a69a"/>
<rect x="349" y="94" width="1" height="19" fill="#ef5350"/>
<rect x="348" y="99" width="3" height="10" fill="#ef5350"/>
<rect x="353" y="87" width="1" height="24" fill="#ef5350"/>
<rect x="352" y="104" width="3" height="1" fill="#ef5350"/>
<rect x="357" y="95" width="1" height="27" fill="#26a69a"/>
<rect x="356" y="95" width="3" height="18" fill="#26a69a"/>
<rect x="361" y="96" width="1" height="30" fill="#ef5350"/>
<rect x="360" y="100" width="3" height="21" fill="#ef5350"/>
<rect x="365" y="107" width="1" height="16" fill="#26a69a"/>
<rect x="364" y="111" width="3" height="10" fill="#26a69a"/>
<rect x="369" y="94" width="1" height="18" fill="#26a69a"/>
<rect x="368" y="109" width="3" height="3" fill="#26a69a"/>
<rect x="372" y="97" width="1" height="13" fill="#26a69a"/>
<rect x="371" y="98" width="3" height="12" fill="#26a69a"/>
<rect x="376" y="83" width="1" height="27" fill="#26a69a"/>
<rect x="375" y="88" width="3" height="7" fill="#26a69a"/>
<rect x="380" y="101" width="1" height="25" fill="#ef5350"/>
<rect x="379" y="101" width="3" height="25" fill="#ef5350"/>
<rect x="384" y="110" width="1" height="37" fill="#ef5350"/>
<rect x="383" y="122" width="3" height="4" fill="#ef5350"/>
<rect x="388" y="110" width="1" height="21" fill="#ef5350"/>
<rect x="387" y="129" width="3" height="2" fill="#ef5350"/>
<rect x="392" y="117" width="1" height="17" fill="#26a69a"/>
<rect x="391" y="122" width="3" height="5" fill="#26a69a"/>
<rect x="396" y="115" width="1" height="29" fill="#ef5350"/>
<rect x="395" y="118" width="3" height="26" fill="#ef5350"/>
<rect x="400" y="144" width="1" height="27" fill="#26a69a"/>
<rect x="399" y="150" width="3" height="2" fill="#26a69a"/>
<rect x="404" y="133" width="1" height="26" fill="#ef5350"/>
<rect x="403" y="139" width="3" height="12" fill="#ef5350"/>
<rect x="408" y="156" width="1" height="27" fill="#ef5350"/>
<rect x="407" y="158" width="3" height="25" fill="#ef5350"/>
<rect x="412" y="171" width="1" height="37" fill="#ef5350"/>
<rect x="411" y="182" width="3" height="26" fill="#ef5350"/>
<rect x="416" y="217" width="1" height="30" fill="#ef5350"/>
<rect x="415" y="217" width="3" height="23" fill="#ef5350"/>
<rect x="420" y="213" width="1" height="26" fill="#ef5350"/>
<rect x="419" y="218" width="3" height="15" fill="#ef5350"/>
<rect x="424" y="232" width="1" height="16" fill="#ef5350"/>
<rect x="423" y="232" width="3" height="13" fill="#ef5350"/>
<rect x="428" y="230" width="1" height="22" fill="#26a69a"/>
<rect x="427" y="242" width="3" height="5" fill="#26a69a"/>
<rect x="432" y="225" width="1" height="20" fill="#ef5350"/>
<rect x="431" y="236" width="3" height="6" fill="#ef5350"/>
<rect x="436" y="218" width="1" height="24" fill="#26a69a"/>
<rect x="435" y="235" width="3" height="7" fill="#26a69a"/>
<rect x="440" y="219" width="1" height="32" fill="#26a69a"/>
<rect x="439" y="221" width="3" height="19" fill="#26a69a"/>
<rect x="444" y="218" width="1" height="19" fill="#ef5350"/>
<rect x="443" y="221" width="3" height="11" fill="#ef5350"/>
<rect x="448" y="229" width="1" height="18" fill="#ef5350"/>
<rect x="447" y="235" width="3" height="12" fill="#ef5350"/>
<rect x="452" y="221" width="1" height="26" fill="#26a69a"/>
<rect x="451" y="223" width="3" height="24" fill="#26a69a"/>
<rect x="456" y="205" width="1" height="23" fill="#26a69a"/>
<rect x="455" y="209" width="3" height="8" fill="#26a69a"/>
<rect x="460" y="173" width="1" height="37" fill="#26a69a"/>
<rect x="459" y="173" width="3" height="37" fill="#26a69a"/>
<rect x="464" y="161" width="1" height="32" fill="#ef5350"/>
<rect x="463" y="168" width="3" height="22" fill="#ef5350"/>
<rect x="468" y="187" width="1" height="23" fill="#ef5350"/>
<rect x="467" y="189" width="3" height="13" fill="#ef5350"/>
<rect x="472" y="180" width="1" height="45" fill="#ef5350"/>
<rect x="471" y="187" width="3" height="25" fill="#ef5350"/>
<rect x="476" y="171" width="1" height="34" fill="#26a69a"/>
<rect x="475" y="174" width="3" height="31" fill="#26a69a"/>
<rect x="480" y="170" width="1" height="17" fill="#ef5350"/>
<rect x="479" y="170" width="3" height="14" fill="#ef5350"/>
<rect x="484" y="158" width="1" height="35" fill="#26a69a"/>
<rect x="483" y="160" width="3" height="24" fill="#26a69a"/>
<rect x="488" y="156" width="1" height="14" fill="#ef5350"/>
<rect x="487" y="158" width="3" height="3" fill="#ef5350"/>
<rect x="492" y="152" width="1" height="12" fill="#26a69a"/>
<rect x="491" y="153" width="3" height="8" fill="#26a69a"/>
<rect x="496" y="127" width="1" height="24" fill="#26a69a"/>
<rect x="495" y="143" width="3" height="6" fill="#26a69a"/>
<rect x="500" y="128" width="1" height="20" fill="#26a69a"/>
<rect x="499" y="135" width="3" height="13" fill="#26a69a"/>
<rect x="504" y="128" width="1" height="36" fill="#ef5350"/>
<rect x="503" y="135" width="3" height="29" fill="#ef5350"/>
<rect x="508" y="156" width="1" height="14" fill="#ef5350"/>
<rect x="507" y="161" width="3" height="5" fill="#ef5350"/>
<rect x="512" y="147" width="1" height="19" fill="#26a69a"/>
<rect x="511" y="149" width="3" height="17" fill="#26a69a"/>
<rect x="516" y="120" width="1" height="29" fill="#26a69a"/>
<rect x="515" y="130" width="3" height="14" fill="#26a69a"/>
<rect x="520" y="122" width="1" height="24" fill="#ef5350"/>
<rect x="519" y="130" width="3" height="2" fill="#ef5350"/>
<rect x="524" y="123" width="1" height="31" fill="#ef5350"/>
<rect x="523" y="126" width="3" height="28" fill="#ef5350"/>
<rect x="528" y="158" width="1" height="29" fill="#ef5350"/>
<rect x="527" y="158" width="3" height="29" fill="#ef5350"/>
<rect x="532" y="173" width="1" height="29" fill="#ef5350"/>
<rect x="531" y="186" width="3" height="13" fill="#ef5350"/>
<rect x="536" y="195" width="1" height="25" fill="#ef5350"/>
<rect x="535" y="198" width="3" height="19" fill="#ef5350"/>
<rect x="540" y="206" width="1" height="20" fill="#ef5350"/>
<rect x="539" y="211" width="3" height="8" fill="#ef5350"/>
<rect x="544" y="206" width="1" height="19" fill="#26a69a"/>
<rect x="543" y="209" width="3" height="10" fill="#26a69a"/>
<rect x="548" y="196" width="1" height="10" fill="#26a69a"/>
<rect x="547" y="200" width="3" height="6" fill="#26a69a"/>
<rect x="552" y="188" width="1" height="23" fill="#ef5350"/>
<rect x="551" y="189" width="3" height="9" fill="#ef5350"/>
<rect x="556" y="193" width="1" height="10" fill="#26a69a"/>
<rect x="555" y="193" width="3" height="5" fill="#26a69a"/>
<rect x="560" y="186" width="1" height="8" fill="#26a69a"/>
<rect x="559" y="187" width="3" height="7" fill="#26a69a"/>
<rect x="564" y="173" width="1" height="12" fill="#26a69a"/>
<rect x="563" y="179" width="3" height="6" fill="#26a69a"/>
<rect x="568" y="161" width="1" height="19" fill="#26a69a"/>
<rect x="567" y="165" width="3" height="6" fill="#26a69a"/>
<rect x="572" y="169" width="1" height="18" fill="#26a69a"/>
<rect x="571" y="171" width="3" height="11" fill="#26a69a"/>
<rect x="576" y="170" width="1" height="21" fill="#ef5350"/>
<rect x="575" y="171" width="3" height="8" fill="#ef5350"/>
<rect x="580" y="160" width="1" height="18" fill="#26a69a"/>
<rect x="579" y="163" width="3" height="15" fill="#26a69a"/>
<rect x="584" y="163" width="1" height="20" fill="#ef5350"/>
<rect x="583" y="163" width="3" height="9" fill="#ef5350"/>
<rect x="588" y="163" width="1" height="12" fill="#26a69a"/>
<rect x="587" y="163" width="3" height="9" fill="#26a69a"/>
<rect x="592" y="168" width="1" height="25" fill="#ef5350"/>
<rect x="591" y="170" width="3" height="15" fill="#ef5350"/>
<rect x="596" y="177" width="1" height="38" fill="#ef5350"/>
<rect x="595" y="184" width="3" height="21" fill="#ef5350"/>
<rect x="600" y="197" width="1" height="27" fill="#26a69a"/>
<rect x="599" y="201" width="3" height="4" fill="#26a69a"/>
<rect x="604" y="213" width="1" height="19" fill="#ef5350"/>
<rect x="603" y="213" width="3" height="19" fill="#ef5350"/>
<rect x="608" y="231" width="1" height="41" fill="#ef5350"/>
<rect x="607" y="235" width="3" height="10" fill="#ef5350"/>
<rect x="612" y="211" width="1" height="32" fill="#26a69a"/>
<rect x="611" y="219" width="3" height="24" fill="#26a69a"/>
<rect x="616" y="177" width="1" height="45" fill="#26a69a"/>
<rect x="615" y="209" width="3" height="9" fill="#26a69a"/>
<rect x="620" y="209" width="1" height="36" fill="#ef5350"/>
<rect x="619" y="209" width="3" height="23" fill="#ef5350"/>
<rect x="624" y="199" width="1" height="32" fill="#ef5350"/>
<rect x="623" y="216" width="3" height="15" fill="#ef5350"/>
<rect x="628" y="219" width="1" height="28" fill="#ef5350"/>
<rect x="627" y="230" width="3" height="8" fill="#ef5350"/>
<rect x="632" y="216" width="1" height="21" fill="#26a69a"/>
<rect x="631" y="232" width="3" height="5" fill="#26a69a"/>
<rect x="636" y="210" width="1" height="31" fill="#ef5350"/>
<rect x="635" y="211" width="3" height="13" fill="#ef5350"/>
<rect x="640" y="232" width="1" height="21" fill="#ef5350"/>
<rect x="639" y="232" width="3" height="11" fill="#ef5350"/>
<rect x="644" y="223" width="1" height="20" fill="#26a69a"/>
<rect x="643" y="231" width="3" height="12" fill="#26a69a"/>
<rect x="648" y="223" width="1" height="23" fill="#ef5350"/>
<rect x="647" y="231" width="3" height="12" fill="#ef5350"/>
<rect x="652" y="245" width="1" height="19" fill="#ef5350"/>
<rect x="651" y="249" width="3" height="15" fill="#ef5350"/>
<rect x="656" y="255" width="1" height="32" fill="#ef5350"/>
<rect x="655" y="263" width="3" height="10" fill="#ef5350"/>
<rect x="660" y="248" width="1" height="30" fill="#26a69a"/>
<rect x="659" y="258" width="3" height="20" fill="#26a69a"/>
<rect x="664" y="234" width="1" height="15" fill="#26a69a"/>
<rect x="663" y="243" width="3" height="2" fill="#26a69a"/>
<rect x="668" y="228" width="1" height="23" fill="#ef5350"/>
<rect x="667" y="228" width="3" height="22" fill="#ef5350"/>
<rect x="672" y="237" width="1" height="30" fill="#ef5350"/>
<rect x="671" y="251" width="3" height="2" fill="#ef5350"/>
<rect x="676" y="234" width="1" height="22" fill="#26a69a"/>
<rect x="675" y="244" width="3" height="9" fill="#26a69a"/>
<rect x="680" y="243" width="1" height="17" fill="#ef5350"/>
<rect x="679" y="244" width="3" height="13" fill="#ef5350"/>
<rect x="684" y="237" width="1" height="20" fill="#26a69a"/>
<rect x="683" y="241" width="3" height="16" fill="#26a69a"/>
<rect x="688" y="229" width="1" height="19" fill="#26a69a"/>
<rect x="687" y="239" width="3" height="5" fill="#26a69a"/>
<rect x="692" y="223" width="1" height="20" fill="#26a69a"/>
<rect x="691" y="236" width="3" height="1" fill="#26a69a"/>
<rect x="696" y="223" width="1" height="26" fill="#ef5350"/>
<rect x="695" y="236" width="3" height="13" fill="#ef5350"/>
<rect x="700" y="251" width="1" height="21" fill="#ef5350"/>
<rect x="699" y="251" width="3" height="13" fill="#ef5350"/>
<rect x="704" y="262" width="1" height="24" fill="#26a69a"/>
<rect x="703" y="277" width="3" height="4" fill="#26a69a"/>
<rect x="708" y="251" width="1" height="27" fill="#26a69a"/>
<rect x="707" y="277" width="3" height="1" fill="#26a69a"/>
<rect x="712" y="261" width="1" height="26" fill="#26a69a"/>
<rect x="711" y="266" width="3" height="19" fill="#26a69a"/>
<rect x="716" y="267" width="1" height="33" fill="#ef5350"/>
<rect x="715" y="273" width="3" height="10" fill="#ef5350"/>
<rect x="719" y="271" width="1" height="17" fill="#26a69a"/>
<rect x="718" y="275" width="3" height="8" fill="#26a69a"/>
<rect x="723" y="255" width="1" height="21" fill="#26a69a"/>
<rect x="722" y="265" width="3" height="11" fill="#26a69a"/>
<rect x="727" y="243" width="1" height="23" fill="#26a69a"/>
<rect x="726" y="249" width="3" height="17" fill="#26a69a"/>
<rect x="731" y="234" width="1" height="31" fill="#26a69a"/>
<rect x="730" y="236" width="3" height="23" fill="#26a69a"/>
<rect x="735" y="226" width="1" height="23" fill="#ef5350"/>
<rect x="734" y="236" width="3" height="9" fill="#ef5350"/>
<rect x="739" y="214" width="1" height="21" fill="#26a69a"/>
<rect x="738" y="214" width="3" height="18" fill="#26a69a"/>
<rect x="743" y="202" width="1" height="17" fill="#ef5350"/>
<rect x="742" y="214" width="3" height="4" fill="#ef5350"/>
<rect x="747" y="203" width="1" height="15" fill="#26a69a"/>
<rect x="746" y="216" width="3" height="2" fill="#26a69a"/>
<rect x="751" y="216" width="1" height="19" fill="#ef5350"/>
<rect x="750" y="216" width="3" height="9" fill="#ef5350"/>
<rect x="755" y="219" width="1" height="21" fill="#ef5350"/>
<rect x="754" y="224" width="3" height="1" fill="#ef5350"/>
<rect x="759" y="209" width="1" height="17" fill="#26a69a"/>
<rect x="758" y="217" width="3" height="8" fill="#26a69a"/>
<rect x="763" y="211" width="1" height="16" fill="#26a69a"/>
<rect x="762" y="215" width="3" height="3" fill="#26a69a"/>
<rect x="767" y="211" width="1" height="23" fill="#ef5350"/>
<rect x="766" y="215" width="3" height="18" fill="#ef5350"/>
<rect x="771" y="220" width="1" height="30" fill="#ef5350"/>
<rect x="770" y="220" width="3" height="13" fill="#ef5350"/>
<rect x="775" y="215" width="1" height="21" fill="#26a69a"/>
<rect x="774" y="222" width="3" height="11" fill="#26a69a"/>
<rect x="779" y="204" width="1" height="30" fill="#26a69a"/>
<rect x="778" y="212" width="3" height="22" fill="#26a69a"/>
<rect x="783" y="211" width="1" height="28" fill="#ef5350"/>
<rect x="782" y="212" width="3" height="20" fill="#ef5350"/>
<rect x="787" y="228" width="1" height="22" fill="#ef5350"/>
<rect x="786" y="231" width="3" height="19" fill="#ef5350"/>
<rect x="791" y="241" width="1" height="17" fill="#ef5350"/>
<rect x="790" y="249" width="3" height="3" fill="#ef5350"/>
<rect x="795" y="244" width="1" height="13" fill="#ef5350"/>
<rect x="794" y="251" width="3" height="3" fill="#ef5350"/>
<rect x="799" y="241" width="1" height="6" fill="#ef5350"/>
<rect x="798" y="241" width="3" height="4" fill="#ef5350"/>
<rect x="803" y="239" width="1" height="6" fill="#26a69a"/>
<rect x="802" y="243" width="3" height="2" fill="#26a69a"/>
<rect x="807" y="240" width="1" height="8" fill="#ef5350"/>
<rect x="806" y="243" width="3" height="4" fill="#ef5350"/>
<rect x="811" y="238" width="1" height="9" fill="#ef5350"/>
<rect x="810" y="241" width="3" height="4" fill="#ef5350"/>
<rect x="815" y="234" width="1" height="12" fill="#26a69a"/>
<rect x="814" y="236" width="3" height="9" fill="#26a69a"/>
<rect x="819" y="231" width="1" height="8" fill="#ef5350"/>
<rect x="818" y="231" width="3" height="2" fill="#ef5350"/>
<rect x="823" y="216" width="1" height="28" fill="#26a69a"/>
<rect x="822" y="221" width="3" height="23" fill="#26a69a"/>
<rect x="827" y="212" width="1" height="11" fill="#26a69a"/>
<rect x="826" y="219" width="3" height="3" fill="#26a69a"/>
<rect x="831" y="213" width="1" height="13" fill="#26a69a"/>
<rect x="830" y="215" width="3" height="5" fill="#26a69a"/>
<rect x="835" y="212" width="1" height="14" fill="#ef5350"/>
<rect x="834" y="215" width="3" height="6" fill="#ef5350"/>
<rect x="839" y="210" width="1" height="11" fill="#26a69a"/>
<rect x="838" y="213" width="3" height="8" fill="#26a69a"/>
<rect x="843" y="213" width="1" height="8" fill="#ef5350"/>
<rect x="842" y="213" width="3" height="8" fill="#ef5350"/>
<rect x="847" y="216" width="1" height="21" fill="#ef5350"/>
<rect x="846" y="220" width="3" height="9" fill="#ef5350"/>
<rect x="851" y="219" width="1" height="10" fill="#26a69a"/>
<rect x="850" y="222" width="3" height="7" fill="#26a69a"/>
<rect x="855" y="203" width="1" height="21" fill="#26a69a"/>
<rect x="854" y="203" width="3" height="20" fill="#26a69a"/>
<rect x="859" y="181" width="1" height="25" fill="#26a69a"/>
<rect x="858" y="183" width="3" height="21" fill="#26a69a"/>
<rect x="863" y="181" width="1" height="19" fill="#ef5350"/>
<rect x="862" y="183" width="3" height="11" fill="#ef5350"/>
<rect x="867" y="187" width="1" height="13" fill="#26a69a"/>
<rect x="866" y="192" width="3" height="2" fill="#26a69a"/>
<rect x="871" y="183" width="1" height="18" fill="#ef5350"/>
<rect x="870" y="183" width="3" height="13" fill="#ef5350"/>
<rect x="875" y="187" width="1" height="13" fill="#ef5350"/>
<rect x="874" y="190" width="3" height="10" fill="#ef5350"/>
<rect x="879" y="199" width="1" height="16" fill="#ef5350"/>
<rect x="878" y="199" width="3" height="5" fill="#ef5350"/>
<rect x="883" y="203" width="1" height="13" fill="#ef5350"/>
<rect x="882" y="208" width="3" height="8" fill="#ef5350"/>
<rect x="887" y="211" width="1" height="19" fill="#ef5350"/>
<rect x="886" y="215" width="3" height="14" fill="#ef5350"/>
<rect x="891" y="219" width="1" height="10" fill="#26a69a"/>
<rect x="890" y="227" width="3" height="2" fill="#26a69a"/>
<rect x="895" y="219" width="1" height="22" fill="#ef5350"/>
<rect x="894" y="227" width="3" height="14" fill="#ef5350"/>
<rect x="899" y="242" width="1" height="9" fill="#ef5350"/>
<rect x="898" y="242" width="3" height="6" fill="#ef5350"/>
<rect x="903" y="241" width="1" height="11" fill="#26a69a"/>
<rect x="902" y="244" width="3" height="8" fill="#26a69a"/>
<rect x="907" y="219" width="1" height="20" fill="#26a69a"/>
<rect x="906" y="221" width="3" height="18" fill="#26a69a"/>
<rect x="911" y="216" width="1" height="17" fill="#ef5350"/>
<rect x="910" y="216" width="3" height="9" fill="#ef5350"/>
<rect x="915" y="220" width="1" height="19" fill="#26a69a"/>
<rect x="914" y="226" width="3" height="11" fill="#26a69a"/>
<rect x="919" y="221" width="1" height="11" fill="#26a69a"/>
<rect x="918" y="221" width="3" height="6" fill="#26a69a"/>
<rect x="923" y="217" width="1" height="9" fill="#26a69a"/>
<rect x="922" y="218" width="3" height="4" fill="#26a69a"/>
<rect x="927" y="214" width="1" height="13" fill="#26a69a"/>
<rect x="926" y="217" width="3" height="2" fill="#26a69a"/>
<rect x="931" y="211" width="1" height="15" fill="#26a69a"/>
<rect x="930" y="217" width="3" height="6" fill="#26a69a"/>
<rect x="935" y="213" width="1" height="5" fill="#26a69a"/>
<rect x="934" y="214" width="3" height="4" fill="#26a69a"/>
<rect x="939" y="209" width="1" height="8" fill="#26a69a"/>
<rect x="938" y="212" width="3" height="3" fill="#26a69a"/>
<rect x="943" y="204" width="1" height="9" fill="#26a69a"/>
<rect x="942" y="210" width="3" height="3" fill="#26a69a"/>
<rect x="947" y="205" width="1" height="14" fill="#ef5350"/>
<rect x="946" y="205" width="3" height="5" fill="#ef5350"/>
<rect x="951" y="203" width="1" height="12" fill="#ef5350"/>
<rect x="950" y="209" width="3" height="4" fill="#ef5350"/>
<rect x="955" y="204" width="1" height="17" fill="#ef5350"/>
<rect x="954" y="208" width="3" height="11" fill="#ef5350"/>
<rect x="959" y="215" width="1" height="15" fill="#ef5350"/>
<rect x="958" y="215" width="3" height="4" fill="#ef5350"/>
<rect x="963" y="212" width="1" height="15" fill="#26a69a"/>
<rect x="962" y="216" width="3" height="3" fill="#26a69a"/>
<rect x="967" y="211" width="1" height="19" fill="#ef5350"/>
<rect x="966" y="216" width="3" height="8" fill="#ef5350"/>
<rect x="971" y="213" width="1" height="13" fill="#26a69a"/>
<rect x="970" y="213" width="3" height="11" fill="#26a69a"/>
<rect x="975" y="213" width="1" height="8" fill="#ef5350"/>
<rect x="974" y="213" width="3" height="5" fill="#ef5350"/>
<rect x="979" y="209" width="1" height="11" fill="#26a69a"/>
<rect x="978" y="211" width="3" height="9" fill="#26a69a"/>
<rect x="983" y="206" width="1" height="18" fill="#ef5350"/>
<rect x="982" y="211" width="3" height="6" fill="#ef5350"/>
<rect x="987" y="212" width="1" height="12" fill="#26a69a"/>
<rect x="986" y="213" width="3" height="4" fill="#26a69a"/>
<rect x="991" y="213" width="1" height="20" fill="#ef5350"/>
<rect x="990" y="213" width="3" height="10" fill="#ef5350"/>
<rect x="995" y="229" width="1" height="17" fill="#ef5350"/>
<rect x="994" y="229" width="3" height="8" fill="#ef5350"/>
<rect x="999" y="236" width="1" height="15" fill="#ef5350"/>
<rect x="998" y="239" width="3" height="3" fill="#ef5350"/>
<rect x="1003" y="241" width="1" height="31" fill="#ef5350"/>
<rect x="1002" y="241" width="3" height="31" fill="#ef5350"/>
<rect x="1007" y="239" width="1" height="33" fill="#26a69a"/>
<rect x="1006" y="239" width="3" height="33" fill="#26a69a"/>
<rect x="1011" y="222" width="1" height="22" fill="#ef5350"/>
<rect x="1010" y="229" width="3" height="14" fill="#ef5350"/>
<rect x="1015" y="246" width="1" height="15" fill="#26a69a"/>
<rect x="1014" y="247" width="3" height="4" fill="#26a69a"/>
<rect x="1019" y="233" width="1" height="24" fill="#26a69a"/>
<rect x="1018" y="241" width="3" height="16" fill="#26a69a"/>
<rect x="1023" y="236" width="1" height="15" fill="#26a69a"/>
<rect x="1022" y="237" width="3" height="14" fill="#26a69a"/>
<rect x="1027" y="228" width="1" height="13" fill="#26a69a"/>
<rect x="1026" y="232" width="3" height="6" fill="#26a69a"/>
<rect x="1031" y="222" width="1" height="21" fill="#26a69a"/>
<rect x="1030" y="222" width="3" height="11" fill="#26a69a"/>
<rect x="1035" y="222" width="1" height="16" fill="#ef5350"/>
<rect x="1034" y="222" width="3" height="11" fill="#ef5350"/>
<rect x="1039" y="226" width="1" height="11" fill="#ef5350"/>
<rect x="1038" y="232" width="3" height="2" fill="#ef5350"/>
<rect x="1043" y="231" width="1" height="17" fill="#26a69a"/>
<rect x="1042" y="236" width="3" height="5" fill="#26a69a"/>
<rect x="1047" y="232" width="1" height="15" fill="#ef5350"/>
<rect x="1046" y="236" width="3" height="10" fill="#ef5350"/>
<rect x="1051" y="238" width="1" height="11" fill="#26a69a"/>
<rect x="1050" y="243" width="3" height="3" fill="#26a69a"/>
<rect x="1055" y="241" width="1" height="10" fill="#ef5350"/>
<rect x="1054" y="243" width="3" height="3" fill="#ef5350"/>
<rect x="1059" y="224" width="1" height="22" fill="#26a69a"/>
<rect x="1058" y="224" width="3" height="22" fill="#26a69a"/>
<rect x="1063" y="224" width="1" height="19" fill="#ef5350"/>
<rect x="1062" y="224" width="3" height="8" fill="#ef5350"/>
<rect x="1066" y="225" width="1" height="18" fill="#ef5350"/>
<rect x="1065" y="232" width="3" height="11" fill="#ef5350"/>
<rect x="1070" y="242" width="1" height="17" fill="#ef5350"/>
<rect x="1069" y="242" width="3" height="9" fill="#ef5350"/>
<rect x="1074" y="243" width="1" height="10" fill="#26a69a"/>
<rect x="1073" y="243" width="3" height="7" fill="#26a69a"/>
<rect x="1078" y="241" width="1" height="11" fill="#ef5350"/>
<rect x="1077" y="244" width="3" height="8" fill="#ef5350"/>
<rect x="1082" y="250" width="1" height="16" fill="#ef5350"/>
<rect x="1081" y="250" width="3" height="8" fill="#ef5350"/>
<rect x="1086" y="253" width="1" height="15" fill="#ef5350"/>
<rect x="1085" y="257" width="3" height="11" fill="#ef5350"/>
<rect x="1090" y="246" width="1" height="31" fill="#26a69a"/>
<rect x="1089" y="251" width="3" height="21" fill="#26a69a"/>
<rect x="1094" y="236" width="1" height="15" fill="#ef5350"/>
<rect x="1093" y="246" width="3" height="5" fill="#ef5350"/>
<rect x="1098" y="251" width="1" height="19" fill="#ef5350"/>
<rect x="1097" y="251" width="3" height="14" fill="#ef5350"/>
<rect x="1102" y="235" width="1" height="30" fill="#26a69a"/>
<rect x="1101" y="235" width="3" height="30" fill="#26a69a"/>
<rect x="1106" y="235" width="1" height="14" fill="#ef5350"/>
<rect x="1105" y="235" width="3" height="12" fill="#ef5350"/>
<rect x="1110" y="244" width="1" height="17" fill="#ef5350"/>
<rect x="1109" y="246" width="3" height="14" fill="#ef5350"/>
<rect x="1114" y="243" width="1" height="17" fill="#26a69a"/>
<rect x="1113" y="243" width="3" height="17" fill="#26a69a"/>
<rect x="1118" y="242" width="1" height="11" fill="#ef5350"/>
<rect x="1117" y="243" width="3" height="7" fill="#ef5350"/>
<rect x="1122" y="246" width="1" height="16" fill="#ef5350"/>
<rect x="1121" y="249" width="3" height="2" fill="#ef5350"/>
<rect x="1126" y="244" width="1" height="12" fill="#ef5350"/>
<rect x="1125" y="244" width="3" height="11" fill="#ef5350"/>
<rect x="1130" y="243" width="1" height="12" fill="#26a69a"/>
<rect x="1129" y="244" width="3" height="11" fill="#26a69a"/>
<rect x="1134" y="243" width="1" height="10" fill="#ef5350"/>
<rect x="1133" y="243" width="3" height="10" fill="#ef5350"/>
<rect x="1138" y="250" width="1" height="14" fill="#ef5350"/>
<rect x="1137" y="253" width="3" height="5" fill="#ef5350"/>
<rect x="1142" y="239" width="1" height="24" fill="#26a69a"/>
<rect x="1141" y="239" width="3" height="12" fill="#26a69a"/>
<rect x="1146" y="242" width="1" height="9" fill="#26a69a"/>
<rect x="1145" y="242" width="3" height="9" fill="#26a69a"/>
<rect x="1150" y="230" width="1" height="8" fill="#26a69a"/>
<rect x="1149" y="234" width="3" height="2" fill="#26a69a"/>
<rect x="1154" y="232" width="1" height="15" fill="#26a69a"/>
<rect x="1153" y="234" width="3" height="13" fill="#26a69a"/>
<rect x="1158" y="225" width="1" height="15" fill="#ef5350"/>
<rect x="1157" y="234" width="3" height="6" fill="#ef5350"/>
<rect x="1162" y="234" width="1" height="19" fill="#ef5350"/>
<rect x="1161" y="239" width="3" height="11" fill="#ef5350"/>
<rect x="1166" y="249" width="1" height="19" fill="#ef5350"/>
<rect x="1165" y="249" width="3" height="12" fill="#ef5350"/>
<rect x="1170" y="252" width="1" height="19" fill="#26a69a"/>
<rect x="1169" y="252" width="3" height="9" fill="#26a69a"/>
<rect x="1174" y="252" width="1" height="12" fill="#ef5350"/>
<rect x="1173" y="252" width="3" height="10" fill="#ef5350"/>
<rect x="1178" y="257" width="1" height="9" fill="#ef5350"/>
<rect x="1177" y="261" width="3" height="3" fill="#ef5350"/>
<rect x="1182" y="253" width="1" height="14" fill="#26a69a"/>
<rect x="1181" y="261" width="3" height="3" fill="#26a69a"/>
<rect x="1186" y="261" width="1" height="13" fill="#ef5350"/>
<rect x="1185" y="261" width="3" height="8" fill="#ef5350"/>
<rect x="1190" y="269" width="1" height="16" fill="#ef5350"/>
<rect x="1189" y="272" width="3" height="7" fill="#ef5350"/>
<rect x="1194" y="273" width="1" height="10" fill="#26a69a"/>
<rect x="1193" y="274" width="3" height="9" fill="#26a69a"/>
<rect x="1198" y="258" width="1" height="17" fill="#26a69a"/>
<rect x="1197" y="261" width="3" height="14" fill="#26a69a"/>
<rect x="1202" y="258" width="1" height="10" fill="#ef5350"/>
<rect x="1201" y="261" width="3" height="5" fill="#ef5350"/>
<rect x="1206" y="263" width="1" height="10" fill="#ef5350"/>
<rect x="1205" y="265" width="3" height="2" fill="#ef5350"/>
<rect x="1210" y="264" width="1" height="19" fill="#ef5350"/>
<rect x="1209" y="266" width="3" height="10" fill="#ef5350"/>
<rect x="1214" y="282" width="1" height="10" fill="#ef5350"/>
<rect x="1213" y="282" width="3" height="8" fill="#ef5350"/>
</g>
</g>
<circle cx="572.5" cy="443.4" r="12.4" fill="#131722" stroke="#1e53e5" stroke-width="2.1"/>
<text x="572.9" y="448.9" font-family="Liberation Sans, sans-serif" font-size="15.3" font-weight="bold" fill="#1e53e5" stroke="#1e53e5" stroke-width="0.3" text-anchor="middle" textLength="8.8" lengthAdjust="spacingAndGlyphs">D</text>
<circle cx="931.5" cy="443.4" r="12.4" fill="#131722" stroke="#1e53e5" stroke-width="2.1"/>
<text x="931.9" y="448.9" font-family="Liberation Sans, sans-serif" font-size="15.3" font-weight="bold" fill="#1e53e5" stroke="#1e53e5" stroke-width="0.3" text-anchor="middle" textLength="8.8" lengthAdjust="spacingAndGlyphs">D</text>
<rect x="122.4" y="432.2" width="22.2" height="22.2" rx="2.8" fill="#131722" stroke="#9598a1" stroke-width="2.15"/>
<text x="133.6" y="448.90000000000003" font-family="Liberation Sans, sans-serif" font-size="15.3" font-weight="bold" fill="#b2b5be" stroke="#b2b5be" stroke-width="0.35" text-anchor="middle" textLength="8.3" lengthAdjust="spacingAndGlyphs">E</text>
<rect x="461.4" y="432.2" width="22.2" height="22.2" rx="2.8" fill="#131722" stroke="#9598a1" stroke-width="2.15"/>
<text x="472.6" y="448.90000000000003" font-family="Liberation Sans, sans-serif" font-size="15.3" font-weight="bold" fill="#b2b5be" stroke="#b2b5be" stroke-width="0.35" text-anchor="middle" textLength="8.3" lengthAdjust="spacingAndGlyphs">E</text>
<rect x="625.4" y="432.2" width="22.2" height="22.2" rx="2.8" fill="#131722" stroke="#9598a1" stroke-width="2.15"/>
<text x="636.6" y="448.90000000000003" font-family="Liberation Sans, sans-serif" font-size="15.3" font-weight="bold" fill="#b2b5be" stroke="#b2b5be" stroke-width="0.35" text-anchor="middle" textLength="8.3" lengthAdjust="spacingAndGlyphs">E</text>
<rect x="896.4" y="432.2" width="22.2" height="22.2" rx="2.8" fill="#131722" stroke="#9598a1" stroke-width="2.15"/>
<text x="907.6" y="448.90000000000003" font-family="Liberation Sans, sans-serif" font-size="15.3" font-weight="bold" fill="#b2b5be" stroke="#b2b5be" stroke-width="0.35" text-anchor="middle" textLength="8.3" lengthAdjust="spacingAndGlyphs">E</text>
<rect x="1115.4" y="432.2" width="22.2" height="22.2" rx="2.8" fill="#131722" stroke="#9598a1" stroke-width="2.15"/>
<text x="1126.6" y="448.90000000000003" font-family="Liberation Sans, sans-serif" font-size="15.3" font-weight="bold" fill="#b2b5be" stroke="#b2b5be" stroke-width="0.35" text-anchor="middle" textLength="8.3" lengthAdjust="spacingAndGlyphs">E</text>
<g clip-path="url(#cr)">
<line x1="13" y1="481.5" x2="1321" y2="481.5" stroke="#787b86" stroke-opacity="1" stroke-width="1" stroke-dasharray="5 6" shape-rendering="crispEdges"/>
<line x1="13" y1="556.5" x2="1321" y2="556.5" stroke="#787b86" stroke-opacity="0.5" stroke-width="1" stroke-dasharray="5 6" shape-rendering="crispEdges"/>
<line x1="13" y1="631.5" x2="1321" y2="631.5" stroke="#787b86" stroke-opacity="1" stroke-width="1" stroke-dasharray="5 6" shape-rendering="crispEdges"/>
<polyline fill="none" stroke="#7e57c2" stroke-width="1.25" stroke-linejoin="round" points="9.9,567.5 13.9,539.5 17.9,516.1 21.9,516.5 24.9,518.2 28.9,506.6 32.9,500.2 36.9,507.3 40.9,518.6 44.9,531.0 48.9,521.4 52.9,510.8 56.9,518.6 60.9,503.0 64.9,481.9 68.9,467.7 72.9,460.7 76.9,452.0 80.9,447.0 84.9,445.0 88.9,448.0 92.9,454.5 96.9,476.2 100.9,486.8 104.9,474.8 108.9,465.6 112.9,467.4 116.9,464.9 120.9,455.0 124.9,448.0 128.9,447.0 132.9,449.0 136.9,454.0 140.9,469.8 144.9,450.0 148.9,452.0 152.9,460.5 156.9,467.0 160.9,513.7 164.9,508.0 168.9,522.8 172.9,510.5 176.9,534.2 180.9,544.8 184.9,528.5 188.9,494.6 192.9,480.4 196.9,467.0 200.9,487.5 204.9,500.5 208.9,503.5 212.9,508.0 216.9,495.0 220.9,523.6 224.9,543.8 228.9,528.5 232.9,505.2 236.9,486.1 240.9,472.2 244.9,473.8 248.9,473.8 252.9,474.1 256.9,460.7 260.9,452.0 264.9,446.0 268.9,442.0 272.9,440.0 276.9,452.0 280.9,502.2 284.9,536.7 288.9,527.8 292.9,510.8 296.9,504.2 300.9,515.5 304.9,508.4 308.9,525.0 312.9,537.0 316.9,521.1 320.9,534.2 324.9,568.7 328.9,553.0 332.9,535.6 336.9,531.3 340.9,517.9 344.9,511.8 348.9,511.8 352.9,509.8 356.9,504.2 360.9,528.9 364.9,523.1 368.9,521.1 371.9,514.4 375.9,506.6 379.9,544.3 383.9,545.2 387.9,550.5 391.9,543.5 395.9,563.1 399.9,569.7 403.9,570.2 407.9,597.3 411.9,612.8 415.9,633.3 419.9,624.9 423.9,630.9 427.9,628.7 431.9,626.7 435.9,618.5 439.9,599.0 443.9,607.9 447.9,618.5 451.9,587.4 455.9,572.6 459.9,538.2 463.9,556.0 467.9,566.2 471.9,572.6 475.9,539.6 479.9,548.1 483.9,529.8 487.9,530.5 491.9,523.8 495.9,517.0 499.9,510.4 503.9,541.9 507.9,544.6 511.9,528.5 515.9,514.2 519.9,516.5 523.9,543.0 527.9,571.9 531.9,583.5 535.9,595.2 539.9,596.6 543.9,584.8 547.9,575.8 551.9,570.8 555.9,565.9 559.9,560.8 563.9,550.7 567.9,536.1 571.9,545.0 575.9,553.0 579.9,534.8 583.9,546.5 587.9,536.5 591.9,564.0 595.9,584.5 599.9,580.1 603.9,606.5 607.9,617.4 611.9,583.2 615.9,573.5 619.9,592.3 623.9,590.9 627.9,597.0 631.9,589.9 635.9,578.3 639.9,596.2 643.9,582.3 647.9,592.3 651.9,610.0 655.9,616.7 659.9,595.2 663.9,578.2 667.9,583.2 671.9,586.4 675.9,576.8 679.9,588.8 683.9,569.0 687.9,565.9 691.9,561.7 695.9,579.0 699.9,595.0 703.9,606.5 707.9,606.0 711.9,588.0 715.9,605.5 718.9,593.0 722.9,577.0 726.9,560.0 730.9,541.0 734.9,551.4 738.9,519.3 742.9,524.2 746.9,522.1 750.9,534.4 754.9,534.7 758.9,525.5 762.9,523.5 766.9,551.4 770.9,551.4 774.9,536.5 778.9,523.5 782.9,551.0 786.9,576.8 790.9,578.9 794.9,581.5 798.9,566.9 802.9,565.1 806.9,570.2 810.9,565.9 814.9,552.8 818.9,545.0 822.9,528.1 826.9,524.9 830.9,518.4 834.9,529.8 838.9,518.2 842.9,535.1 846.9,550.4 850.9,540.1 854.9,513.2 858.9,486.8 862.9,508.3 866.9,507.3 870.9,512.8 874.9,521.0 878.9,530.9 882.9,556.4 886.9,575.7 890.9,574.6 894.9,591.9 898.9,603.2 902.9,597.5 906.9,554.0 910.9,557.2 914.9,561.1 918.9,552.3 922.9,546.4 926.9,544.2 930.9,543.1 934.9,538.2 938.9,533.9 942.9,529.3 946.9,528.3 950.9,538.2 954.9,554.4 958.9,554.4 962.9,549.5 966.9,569.5 970.9,540.7 974.9,553.4 978.9,536.7 982.9,552.3 986.9,543.4 990.9,571.0 994.9,599.5 998.9,607.0 1002.9,646.6 1006.9,577.0 1010.9,583.0 1014.9,588.4 1018.9,577.6 1022.9,567.7 1026.9,560.0 1030.9,544.0 1034.9,561.3 1038.9,564.0 1042.9,567.4 1046.9,583.3 1050.9,578.4 1054.9,582.2 1058.9,541.4 1062.9,555.5 1065.9,570.5 1069.9,585.1 1073.9,572.8 1077.9,584.5 1081.9,593.0 1085.9,607.6 1089.9,573.5 1093.9,572.2 1097.9,592.8 1101.9,545.6 1105.9,560.5 1109.9,578.3 1113.9,555.1 1117.9,563.6 1121.9,564.6 1125.9,569.6 1129.9,555.0 1133.9,566.4 1137.9,573.5 1141.9,546.3 1145.9,549.9 1149.9,537.6 1153.9,539.7 1157.9,548.2 1161.9,565.1 1165.9,581.4 1169.9,567.2 1173.9,580.4 1177.9,584.2 1181.9,579.7 1185.9,589.9 1189.9,605.4 1193.9,594.8 1197.9,568.0 1201.9,575.3 1205.9,577.6 1209.9,591.3 1213.9,613.2"/>
</g>
<text x="12.9" y="24.6" font-family="Liberation Sans, sans-serif" font-size="14" font-weight="normal" fill="#d1d4dc" stroke="#d1d4dc" stroke-width="0.3" textLength="52.0" lengthAdjust="spacingAndGlyphs" >orzo878</text>
<text x="69.8" y="24.6" font-family="Liberation Sans, sans-serif" font-size="14" font-weight="normal" fill="#d1d4dc" stroke="#d1d4dc" stroke-width="0.3" textLength="6.2" lengthAdjust="spacingAndGlyphs" >ב</text>
<text x="82.5" y="24.6" font-family="Liberation Sans, sans-serif" font-size="14" font-weight="normal" fill="#d1d4dc" stroke="#d1d4dc" stroke-width="0.3" textLength="37.9" lengthAdjust="spacingAndGlyphs" >פורסם</text>
<text x="121.3" y="24.6" font-family="Liberation Sans, sans-serif" font-size="14" font-weight="normal" fill="#d1d4dc" stroke="#d1d4dc" stroke-width="0.3" textLength="122.4" lengthAdjust="spacingAndGlyphs" >-TradingView.com,</text>
<text x="249.1" y="24.6" font-family="Liberation Sans, sans-serif" font-size="14" font-weight="normal" fill="#d1d4dc" stroke="#d1d4dc" stroke-width="0.3" textLength="35.6" lengthAdjust="spacingAndGlyphs" >14:05</text>
<text x="290.4" y="24.6" font-family="Liberation Sans, sans-serif" font-size="14" font-weight="normal" fill="#d1d4dc" stroke="#d1d4dc" stroke-width="0.3" textLength="29.8" lengthAdjust="spacingAndGlyphs" >2022</text>
<text x="327.1" y="24.6" font-family="Liberation Sans, sans-serif" font-size="14" font-weight="normal" fill="#d1d4dc" stroke="#d1d4dc" stroke-width="0.3" textLength="19.8" lengthAdjust="spacingAndGlyphs" >,25</text>
<text x="351.6" y="24.6" font-family="Liberation Sans, sans-serif" font-size="14" font-weight="normal" fill="#d1d4dc" stroke="#d1d4dc" stroke-width="0.3" textLength="26.3" lengthAdjust="spacingAndGlyphs" >דצמ'‏</text>
<text x="383" y="24.6" font-family="Liberation Sans, sans-serif" font-size="14" font-weight="normal" fill="#d1d4dc" stroke="#d1d4dc" stroke-width="0.3" textLength="42.1" lengthAdjust="spacingAndGlyphs" >UTC+2</text>
<text x="23.5" y="59" font-family="Liberation Sans, sans-serif" font-size="14.6" font-weight="normal" fill="#c8cbd3" stroke="#c8cbd3" stroke-width="0.3" textLength="70.3" lengthAdjust="spacingAndGlyphs" >אאורה, 1יום</text>
<text x="95.3" y="59" font-family="Liberation Sans, sans-serif" font-size="14.6" font-weight="normal" fill="#c8cbd3" stroke="#c8cbd3" stroke-width="0.3" textLength="2.7" lengthAdjust="spacingAndGlyphs" >,</text>
<text x="104.9" y="59" font-family="Liberation Sans, sans-serif" font-size="14.6" font-weight="normal" fill="#c8cbd3" stroke="#c8cbd3" stroke-width="0.3" textLength="30.6" lengthAdjust="spacingAndGlyphs" >TASE</text>
<text x="145.5" y="59" font-family="Liberation Sans, sans-serif" font-size="14.6" font-weight="normal" fill="#c8cbd3" stroke="#c8cbd3" stroke-width="0.3" textLength="6.9" lengthAdjust="spacingAndGlyphs" >פ</text>
<text x="153.9" y="59" font-family="Liberation Sans, sans-serif" font-size="14.6" font-weight="normal" fill="#ef5350" stroke="#ef5350" stroke-width="0.3" textLength="35.8" lengthAdjust="spacingAndGlyphs" >554.5</text>
<text x="199.7" y="59" font-family="Liberation Sans, sans-serif" font-size="14.6" font-weight="normal" fill="#c8cbd3" stroke="#c8cbd3" stroke-width="0.3" textLength="5.8" lengthAdjust="spacingAndGlyphs" >ג</text>
<text x="206.1" y="59" font-family="Liberation Sans, sans-serif" font-size="14.6" font-weight="normal" fill="#ef5350" stroke="#ef5350" stroke-width="0.3" textLength="36.1" lengthAdjust="spacingAndGlyphs" >555.4</text>
<text x="251.4" y="59" font-family="Liberation Sans, sans-serif" font-size="14.6" font-weight="normal" fill="#c8cbd3" stroke="#c8cbd3" stroke-width="0.3" textLength="4.7" lengthAdjust="spacingAndGlyphs" >נ</text>
<text x="256.5" y="59" font-family="Liberation Sans, sans-serif" font-size="14.6" font-weight="normal" fill="#ef5350" stroke="#ef5350" stroke-width="0.3" textLength="35.8" lengthAdjust="spacingAndGlyphs" >540.1</text>
<text x="302.7" y="59" font-family="Liberation Sans, sans-serif" font-size="14.6" font-weight="normal" fill="#c8cbd3" stroke="#c8cbd3" stroke-width="0.3" textLength="7.7" lengthAdjust="spacingAndGlyphs" >ס</text>
<text x="311.3" y="59" font-family="Liberation Sans, sans-serif" font-size="14.6" font-weight="normal" fill="#ef5350" stroke="#ef5350" stroke-width="0.3" textLength="36.7" lengthAdjust="spacingAndGlyphs" >543.0</text>
<text x="357.5" y="59" font-family="Liberation Sans, sans-serif" font-size="14.6" font-weight="normal" fill="#ef5350" stroke="#ef5350" stroke-width="0.3" textLength="36.6" lengthAdjust="spacingAndGlyphs" >−21.2</text>
<text x="399.4" y="59" font-family="Liberation Sans, sans-serif" font-size="14.6" font-weight="normal" fill="#ef5350" stroke="#ef5350" stroke-width="0.3" textLength="55.6" lengthAdjust="spacingAndGlyphs" >(−3.76%)</text>
<text x="24.1" y="80" font-family="Liberation Sans, sans-serif" font-size="14.6" font-weight="normal" fill="#c8cbd3" stroke="#c8cbd3" stroke-width="0.3" textLength="33.8" lengthAdjust="spacingAndGlyphs" >מחזור</text>
<text x="67.5" y="80" font-family="Liberation Sans, sans-serif" font-size="14.6" font-weight="normal" fill="#ef5350" stroke="#ef5350" stroke-width="0.3" textLength="61.1" lengthAdjust="spacingAndGlyphs" >181.468K</text>
<text x="23.3" y="486" font-family="Liberation Sans, sans-serif" font-size="14.6" font-weight="normal" fill="#c8cbd3" stroke="#c8cbd3" stroke-width="0.3" textLength="94.8" lengthAdjust="spacingAndGlyphs" >RSI (14, close)</text>
<text x="128" y="486" font-family="Liberation Sans, sans-serif" font-size="14.6" font-weight="normal" fill="#7e57c2" stroke="#7e57c2" stroke-width="0.3" textLength="36.1" lengthAdjust="spacingAndGlyphs" >34.86</text>
<rect x="14" y="73" width="130" height="1" fill="#2962ff" shape-rendering="crispEdges"/>
<g clip-path="url(#cr)"><g clip-path="url(#cl)">
<line x1="13" y1="481.5" x2="1321" y2="481.5" stroke="#787b86" stroke-width="1" stroke-dasharray="5 6" shape-rendering="crispEdges"/>
<polyline fill="none" stroke="#7e57c2" stroke-width="1.25" stroke-linejoin="round" points="9.9,567.5 13.9,539.5 17.9,516.1 21.9,516.5 24.9,518.2 28.9,506.6 32.9,500.2 36.9,507.3 40.9,518.6 44.9,531.0 48.9,521.4 52.9,510.8 56.9,518.6 60.9,503.0 64.9,481.9 68.9,467.7 72.9,460.7 76.9,452.0 80.9,447.0 84.9,445.0 88.9,448.0 92.9,454.5 96.9,476.2 100.9,486.8 104.9,474.8 108.9,465.6 112.9,467.4 116.9,464.9 120.9,455.0 124.9,448.0 128.9,447.0 132.9,449.0 136.9,454.0 140.9,469.8 144.9,450.0 148.9,452.0 152.9,460.5 156.9,467.0 160.9,513.7 164.9,508.0 168.9,522.8 172.9,510.5 176.9,534.2 180.9,544.8 184.9,528.5"/>
</g></g>
<text x="1333.4" y="55.7" font-family="Liberation Sans, sans-serif" font-size="14.6" font-weight="normal" fill="#b2b5be" stroke="#b2b5be" stroke-width="0.3" textLength="20.4" lengthAdjust="spacingAndGlyphs" >ILA</text>
<text x="1334.3" y="112.8" font-family="Liberation Sans, sans-serif" font-size="14.6" font-weight="normal" fill="#b2b5be" stroke="#b2b5be" stroke-width="0.3" textLength="36.4" lengthAdjust="spacingAndGlyphs" >800.0</text>
<text x="1334.3" y="184" font-family="Liberation Sans, sans-serif" font-size="14.6" font-weight="normal" fill="#b2b5be" stroke="#b2b5be" stroke-width="0.3" textLength="36.4" lengthAdjust="spacingAndGlyphs" >700.0</text>
<text x="1334.3" y="255.2" font-family="Liberation Sans, sans-serif" font-size="14.6" font-weight="normal" fill="#b2b5be" stroke="#b2b5be" stroke-width="0.3" textLength="36.4" lengthAdjust="spacingAndGlyphs" >600.0</text>
<text x="1334.3" y="397.6" font-family="Liberation Sans, sans-serif" font-size="14.6" font-weight="normal" fill="#b2b5be" stroke="#b2b5be" stroke-width="0.3" textLength="36.4" lengthAdjust="spacingAndGlyphs" >400.0</text>
<text x="1334.3" y="486.7" font-family="Liberation Sans, sans-serif" font-size="14.6" font-weight="normal" fill="#b2b5be" stroke="#b2b5be" stroke-width="0.3" textLength="36.4" lengthAdjust="spacingAndGlyphs" >70.00</text>
<text x="1334.3" y="561.7" font-family="Liberation Sans, sans-serif" font-size="14.6" font-weight="normal" fill="#b2b5be" stroke="#b2b5be" stroke-width="0.3" textLength="36.4" lengthAdjust="spacingAndGlyphs" >50.00</text>
<text x="1334.3" y="636.7" font-family="Liberation Sans, sans-serif" font-size="14.6" font-weight="normal" fill="#b2b5be" stroke="#b2b5be" stroke-width="0.3" textLength="36.4" lengthAdjust="spacingAndGlyphs" >30.00</text>
<path d="M1321 64h55.5a2.5 2.5 0 0 1 2.5 2.5v15a2.5 2.5 0 0 1 -2.5 2.5h-55.5z" fill="#2962ff"/>
<rect x="1321" y="63" width="59" height="10" fill="url(#fade)"/>
<text x="1334.3" y="78.8" font-family="Liberation Sans, sans-serif" font-size="14.6" font-weight="normal" fill="#ffffff" stroke="#ffffff" stroke-width="0.3" textLength="36.4" lengthAdjust="spacingAndGlyphs" >849.6</text>
<path d="M1321 280h76.5a2.5 2.5 0 0 1 2.5 2.5v34a2.5 2.5 0 0 1 -2.5 2.5h-76.5z" fill="#ef5350"/>
<text x="1334.3" y="295.6" font-family="Liberation Sans, sans-serif" font-size="14.6" font-weight="normal" fill="#ffffff" stroke="#ffffff" stroke-width="0.3" textLength="36.4" lengthAdjust="spacingAndGlyphs" >543.0</text>
<text x="1334.3" y="313.7" font-family="Liberation Sans, sans-serif" font-size="14.6" font-weight="normal" fill="#ffffff" stroke="#ffffff" stroke-opacity="0.72" stroke-width="0.3" textLength="57.9" lengthAdjust="spacingAndGlyphs" fill-opacity="0.72">03:34:59</text>
<path d="M1321 319h55.5a2.5 2.5 0 0 1 2.5 2.5v16a2.5 2.5 0 0 1 -2.5 2.5h-55.5z" fill="#2962ff"/>
<text x="1334.3" y="334.6" font-family="Liberation Sans, sans-serif" font-size="14.6" font-weight="normal" fill="#ffffff" stroke="#ffffff" stroke-width="0.3" textLength="35.3" lengthAdjust="spacingAndGlyphs" >500.1</text>
<text x="101.5" y="686.8" font-family="Liberation Sans, sans-serif" font-size="14.6" font-weight="normal" fill="#b2b5be" stroke="#b2b5be" stroke-width="0.3" textLength="7.8" lengthAdjust="spacingAndGlyphs" >8</text>
<text x="244.2" y="686.8" font-family="Liberation Sans, sans-serif" font-size="14.6" font-weight="bold" fill="#c9ccd4" textLength="33.8" lengthAdjust="spacingAndGlyphs" stroke="none">2022</text>
<text x="416.3" y="686.8" font-family="Liberation Sans, sans-serif" font-size="14.6" font-weight="normal" fill="#b2b5be" stroke="#b2b5be" stroke-width="0.3" textLength="23.2" lengthAdjust="spacingAndGlyphs" >מרץ</text>
<text x="581.8" y="686.8" font-family="Liberation Sans, sans-serif" font-size="14.6" font-weight="normal" fill="#b2b5be" stroke="#b2b5be" stroke-width="0.3" textLength="20.3" lengthAdjust="spacingAndGlyphs" >מאי</text>
<text x="751" y="686.8" font-family="Liberation Sans, sans-serif" font-size="14.6" font-weight="normal" fill="#b2b5be" stroke="#b2b5be" stroke-width="0.3" textLength="15.5" lengthAdjust="spacingAndGlyphs" >יול'‏</text>
<text x="916.6" y="686.8" font-family="Liberation Sans, sans-serif" font-size="14.6" font-weight="normal" fill="#b2b5be" stroke="#b2b5be" stroke-width="0.3" textLength="28.2" lengthAdjust="spacingAndGlyphs" >ספט'‏</text>
<text x="1056.2" y="686.8" font-family="Liberation Sans, sans-serif" font-size="14.6" font-weight="normal" fill="#b2b5be" stroke="#b2b5be" stroke-width="0.3" textLength="19.7" lengthAdjust="spacingAndGlyphs" >נוב'‏</text>
<text x="1217" y="686.8" font-family="Liberation Sans, sans-serif" font-size="14.6" font-weight="bold" fill="#c9ccd4" textLength="34.0" lengthAdjust="spacingAndGlyphs" stroke="none">2023</text>
<g transform="translate(12.9,711.988) scale(0.678)" fill="#d1d4dc"><path d="M14 22H7V11H0V4h14v18zM28 22h-8l7.5-18h8L28 22z"/><circle cx="20" cy="8" r="4"/></g>
<text x="42.2" y="726.9" font-family="Liberation Sans, sans-serif" font-size="15.7" font-weight="normal" fill="#d1d4dc" textLength="87.6" lengthAdjust="spacingAndGlyphs" stroke="#d1d4dc" stroke-width="0.35">TradingView</text>
</svg>
</body></html>
